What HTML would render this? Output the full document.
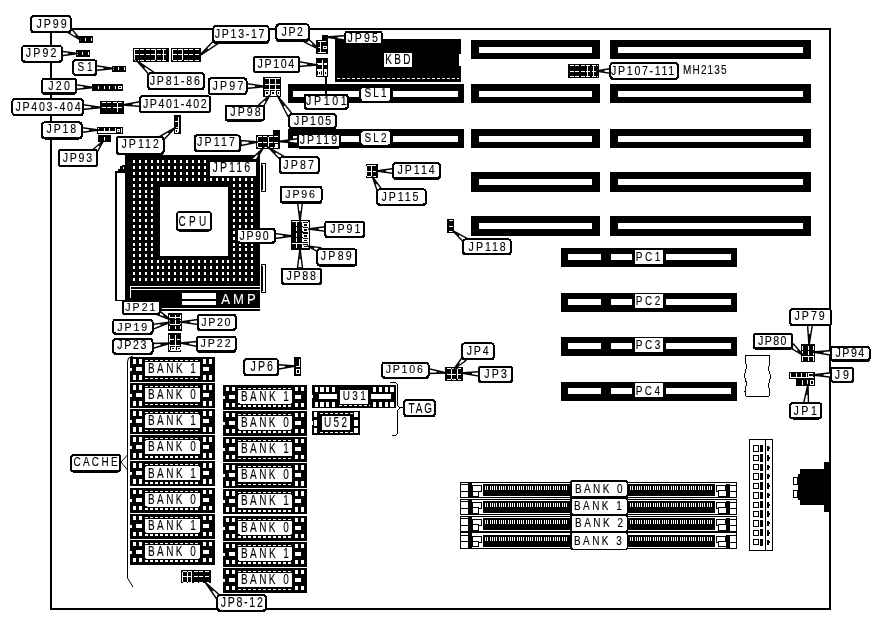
<!DOCTYPE html>
<html><head><meta charset="utf-8"><style>
html,body{margin:0;padding:0;background:#fff;}
body{width:882px;height:619px;overflow:hidden;}
svg{display:block;will-change:transform;}
text{font-family:"Liberation Sans",sans-serif;}
</style></head><body>
<svg width="882" height="619" viewBox="0 0 882 619" shape-rendering="crispEdges">
<rect width="882" height="619" fill="#fff"/>
<rect x="51" y="29" width="779" height="580" fill="none" stroke="#000" stroke-width="2"/>
<rect x="471" y="40" width="129" height="19" fill="#000"/>
<rect x="479" y="47" width="113" height="6" fill="#fff"/>
<rect x="610" y="40" width="201" height="19" fill="#000"/>
<rect x="618" y="47" width="185" height="6" fill="#fff"/>
<rect x="471" y="84" width="129" height="19" fill="#000"/>
<rect x="479" y="91" width="113" height="6" fill="#fff"/>
<rect x="610" y="84" width="201" height="19" fill="#000"/>
<rect x="618" y="91" width="185" height="6" fill="#fff"/>
<rect x="471" y="129" width="129" height="19" fill="#000"/>
<rect x="479" y="136" width="113" height="6" fill="#fff"/>
<rect x="610" y="129" width="201" height="19" fill="#000"/>
<rect x="618" y="136" width="185" height="6" fill="#fff"/>
<rect x="471" y="172" width="129" height="20" fill="#000"/>
<rect x="479" y="179" width="113" height="6" fill="#fff"/>
<rect x="610" y="172" width="201" height="20" fill="#000"/>
<rect x="618" y="179" width="185" height="6" fill="#fff"/>
<rect x="471" y="216" width="129" height="20" fill="#000"/>
<rect x="479" y="223" width="113" height="6" fill="#fff"/>
<rect x="610" y="216" width="201" height="20" fill="#000"/>
<rect x="618" y="223" width="185" height="6" fill="#fff"/>
<rect x="288" y="84" width="176" height="19" fill="#000"/>
<rect x="293" y="91" width="165" height="6" fill="#fff"/>
<rect x="358.6" y="90" width="34.7" height="8" fill="#000"/>
<rect x="288" y="129" width="176" height="19" fill="#000"/>
<rect x="293" y="136" width="165" height="6" fill="#fff"/>
<rect x="358.6" y="135" width="34.7" height="8" fill="#000"/>
<rect x="335" y="39" width="126" height="43" fill="#000"/>
<rect x="459" y="54" width="2" height="12" fill="#fff"/>
<line x1="337" y1="78.5" x2="459" y2="78.5" stroke="#fff" stroke-width="1" stroke-dasharray="3 2"/>
<rect x="561" y="248.2" width="176" height="19" fill="#000"/>
<rect x="568" y="254.2" width="33" height="6" fill="#fff"/>
<rect x="611" y="254.2" width="21" height="6" fill="#fff"/>
<rect x="666" y="254.2" width="65" height="6" fill="#fff"/>
<rect x="561" y="292.5" width="176" height="19" fill="#000"/>
<rect x="568" y="298.5" width="33" height="6" fill="#fff"/>
<rect x="611" y="298.5" width="21" height="6" fill="#fff"/>
<rect x="666" y="298.5" width="65" height="6" fill="#fff"/>
<rect x="561" y="336.5" width="176" height="19" fill="#000"/>
<rect x="568" y="342.5" width="33" height="6" fill="#fff"/>
<rect x="611" y="342.5" width="21" height="6" fill="#fff"/>
<rect x="666" y="342.5" width="65" height="6" fill="#fff"/>
<rect x="561" y="381.8" width="176" height="19" fill="#000"/>
<rect x="568" y="387.8" width="33" height="6" fill="#fff"/>
<rect x="611" y="387.8" width="21" height="6" fill="#fff"/>
<rect x="666" y="387.8" width="65" height="6" fill="#fff"/>
<rect x="125" y="154.7" width="135" height="156.3" fill="#000"/>
<path d="M133 160h2v3h-2zM139 160h2v3h-2zM145 160h2v3h-2zM151 160h2v3h-2zM157 160h2v3h-2zM162 160h2v3h-2zM168 160h2v3h-2zM174 160h2v3h-2zM180 160h2v3h-2zM186 160h2v3h-2zM192 160h2v3h-2zM198 160h2v3h-2zM204 160h2v3h-2zM210 160h2v3h-2zM216 160h2v3h-2zM222 160h2v3h-2zM227 160h2v3h-2zM233 160h2v3h-2zM239 160h2v3h-2zM245 160h2v3h-2zM251 160h2v3h-2zM133 166h2v3h-2zM139 166h2v3h-2zM145 166h2v3h-2zM151 166h2v3h-2zM157 166h2v3h-2zM162 166h2v3h-2zM168 166h2v3h-2zM174 166h2v3h-2zM180 166h2v3h-2zM186 166h2v3h-2zM192 166h2v3h-2zM198 166h2v3h-2zM204 166h2v3h-2zM210 166h2v3h-2zM216 166h2v3h-2zM222 166h2v3h-2zM227 166h2v3h-2zM233 166h2v3h-2zM239 166h2v3h-2zM245 166h2v3h-2zM251 166h2v3h-2zM133 172h2v3h-2zM139 172h2v3h-2zM145 172h2v3h-2zM151 172h2v3h-2zM157 172h2v3h-2zM162 172h2v3h-2zM168 172h2v3h-2zM174 172h2v3h-2zM180 172h2v3h-2zM186 172h2v3h-2zM192 172h2v3h-2zM198 172h2v3h-2zM204 172h2v3h-2zM210 172h2v3h-2zM216 172h2v3h-2zM222 172h2v3h-2zM227 172h2v3h-2zM233 172h2v3h-2zM239 172h2v3h-2zM245 172h2v3h-2zM251 172h2v3h-2zM133 178h2v3h-2zM139 178h2v3h-2zM145 178h2v3h-2zM151 178h2v3h-2zM157 178h2v3h-2zM162 178h2v3h-2zM168 178h2v3h-2zM174 178h2v3h-2zM180 178h2v3h-2zM186 178h2v3h-2zM192 178h2v3h-2zM198 178h2v3h-2zM204 178h2v3h-2zM210 178h2v3h-2zM216 178h2v3h-2zM222 178h2v3h-2zM227 178h2v3h-2zM233 178h2v3h-2zM239 178h2v3h-2zM245 178h2v3h-2zM251 178h2v3h-2zM133 184h2v3h-2zM139 184h2v3h-2zM145 184h2v3h-2zM151 184h2v3h-2zM233 184h2v3h-2zM239 184h2v3h-2zM245 184h2v3h-2zM251 184h2v3h-2zM133 190h2v3h-2zM139 190h2v3h-2zM145 190h2v3h-2zM151 190h2v3h-2zM233 190h2v3h-2zM239 190h2v3h-2zM245 190h2v3h-2zM251 190h2v3h-2zM133 195h2v3h-2zM139 195h2v3h-2zM145 195h2v3h-2zM151 195h2v3h-2zM233 195h2v3h-2zM239 195h2v3h-2zM245 195h2v3h-2zM251 195h2v3h-2zM133 201h2v3h-2zM139 201h2v3h-2zM145 201h2v3h-2zM151 201h2v3h-2zM233 201h2v3h-2zM239 201h2v3h-2zM245 201h2v3h-2zM251 201h2v3h-2zM133 207h2v3h-2zM139 207h2v3h-2zM145 207h2v3h-2zM151 207h2v3h-2zM233 207h2v3h-2zM239 207h2v3h-2zM245 207h2v3h-2zM251 207h2v3h-2zM133 213h2v3h-2zM139 213h2v3h-2zM145 213h2v3h-2zM151 213h2v3h-2zM233 213h2v3h-2zM239 213h2v3h-2zM245 213h2v3h-2zM251 213h2v3h-2zM133 219h2v3h-2zM139 219h2v3h-2zM145 219h2v3h-2zM151 219h2v3h-2zM233 219h2v3h-2zM239 219h2v3h-2zM245 219h2v3h-2zM251 219h2v3h-2zM133 225h2v3h-2zM139 225h2v3h-2zM145 225h2v3h-2zM151 225h2v3h-2zM233 225h2v3h-2zM239 225h2v3h-2zM245 225h2v3h-2zM251 225h2v3h-2zM133 231h2v3h-2zM139 231h2v3h-2zM145 231h2v3h-2zM151 231h2v3h-2zM233 231h2v3h-2zM239 231h2v3h-2zM245 231h2v3h-2zM251 231h2v3h-2zM133 237h2v3h-2zM139 237h2v3h-2zM145 237h2v3h-2zM151 237h2v3h-2zM233 237h2v3h-2zM239 237h2v3h-2zM245 237h2v3h-2zM251 237h2v3h-2zM133 243h2v3h-2zM139 243h2v3h-2zM145 243h2v3h-2zM151 243h2v3h-2zM233 243h2v3h-2zM239 243h2v3h-2zM245 243h2v3h-2zM251 243h2v3h-2zM133 248h2v3h-2zM139 248h2v3h-2zM145 248h2v3h-2zM151 248h2v3h-2zM233 248h2v3h-2zM239 248h2v3h-2zM245 248h2v3h-2zM251 248h2v3h-2zM133 254h2v3h-2zM139 254h2v3h-2zM145 254h2v3h-2zM151 254h2v3h-2zM233 254h2v3h-2zM239 254h2v3h-2zM245 254h2v3h-2zM251 254h2v3h-2zM133 260h2v3h-2zM139 260h2v3h-2zM145 260h2v3h-2zM151 260h2v3h-2zM157 260h2v3h-2zM162 260h2v3h-2zM168 260h2v3h-2zM174 260h2v3h-2zM180 260h2v3h-2zM186 260h2v3h-2zM192 260h2v3h-2zM198 260h2v3h-2zM204 260h2v3h-2zM210 260h2v3h-2zM216 260h2v3h-2zM222 260h2v3h-2zM227 260h2v3h-2zM233 260h2v3h-2zM239 260h2v3h-2zM245 260h2v3h-2zM251 260h2v3h-2zM133 266h2v3h-2zM139 266h2v3h-2zM145 266h2v3h-2zM151 266h2v3h-2zM157 266h2v3h-2zM162 266h2v3h-2zM168 266h2v3h-2zM174 266h2v3h-2zM180 266h2v3h-2zM186 266h2v3h-2zM192 266h2v3h-2zM198 266h2v3h-2zM204 266h2v3h-2zM210 266h2v3h-2zM216 266h2v3h-2zM222 266h2v3h-2zM227 266h2v3h-2zM233 266h2v3h-2zM239 266h2v3h-2zM245 266h2v3h-2zM251 266h2v3h-2zM133 272h2v3h-2zM139 272h2v3h-2zM145 272h2v3h-2zM151 272h2v3h-2zM157 272h2v3h-2zM162 272h2v3h-2zM168 272h2v3h-2zM174 272h2v3h-2zM180 272h2v3h-2zM186 272h2v3h-2zM192 272h2v3h-2zM198 272h2v3h-2zM204 272h2v3h-2zM210 272h2v3h-2zM216 272h2v3h-2zM222 272h2v3h-2zM227 272h2v3h-2zM233 272h2v3h-2zM239 272h2v3h-2zM245 272h2v3h-2zM251 272h2v3h-2zM133 278h2v3h-2zM139 278h2v3h-2zM145 278h2v3h-2zM151 278h2v3h-2zM157 278h2v3h-2zM162 278h2v3h-2zM168 278h2v3h-2zM174 278h2v3h-2zM180 278h2v3h-2zM186 278h2v3h-2zM192 278h2v3h-2zM198 278h2v3h-2zM204 278h2v3h-2zM210 278h2v3h-2zM216 278h2v3h-2zM222 278h2v3h-2zM227 278h2v3h-2zM233 278h2v3h-2zM239 278h2v3h-2zM245 278h2v3h-2zM251 278h2v3h-2z" fill="#fff"/>
<rect x="160" y="187" width="68" height="69" fill="#fff"/>
<rect x="130" y="286" width="130" height="1" fill="#fff"/>
<rect x="130" y="289" width="130" height="1" fill="#fff"/>
<rect x="130" y="286" width="1" height="12" fill="#fff"/>
<rect x="162" y="308" width="98" height="1" fill="#fff"/>
<rect x="182" y="292.5" width="34" height="6" fill="#fff"/>
<rect x="182" y="300.5" width="34" height="4.5" fill="#fff"/>
<text x="260.2" y="303.8" font-size="15.43" fill="#fff" letter-spacing="3.71" transform="scale(0.85000 1)" stroke="#fff" stroke-width="0.12">AMP</text>
<rect x="115" y="171" width="11" height="130" fill="#000"/>
<rect x="117" y="173" width="8" height="127" fill="#fff"/>
<path d="M118 171 L118 169 L120 169 L120 166 L122 166 L122 165 L126 165 L126 171Z" fill="#000"/>
<rect x="123" y="167" width="1" height="2" fill="#fff"/>
<rect x="261.5" y="163.5" width="4" height="28" fill="#fff" stroke="#000" stroke-width="1"/>
<rect x="261" y="165" width="1.5" height="25" fill="#000"/>
<rect x="261.5" y="264.5" width="4" height="28" fill="#fff" stroke="#000" stroke-width="1"/>
<rect x="261" y="266" width="1.5" height="25" fill="#000"/>
<rect x="130" y="357" width="85" height="25" fill="#000"/>
<line x1="145" y1="360.5" x2="200" y2="360.5" stroke="#fff" stroke-width="1" stroke-dasharray="3 2"/>
<line x1="145" y1="378.5" x2="200" y2="378.5" stroke="#fff" stroke-width="1.5" stroke-dasharray="3 2"/>
<rect x="145" y="362" width="55" height="14" fill="#fff" rx="1.5"/>
<text x="204.92" y="373.2" font-size="13.86" fill="#000" letter-spacing="3.44" transform="scale(0.72165 1)" stroke="#000" stroke-width="0.12">BANK 1</text>
<rect x="133" y="359" width="3" height="4.5" fill="#fff"/>
<rect x="139" y="359" width="3" height="4.5" fill="#fff"/>
<rect x="133" y="375" width="3" height="4.5" fill="#fff"/>
<rect x="139" y="375" width="3" height="4.5" fill="#fff"/>
<rect x="203" y="359" width="3" height="4.5" fill="#fff"/>
<rect x="209" y="359" width="3" height="4.5" fill="#fff"/>
<rect x="203" y="375" width="3" height="4.5" fill="#fff"/>
<rect x="209" y="375" width="3" height="4.5" fill="#fff"/>
<rect x="136" y="367" width="6" height="4" fill="#fff"/>
<rect x="203" y="367" width="6" height="4" fill="#fff"/>
<rect x="130" y="368" width="1.5" height="3" fill="#fff"/>
<rect x="223" y="384.5" width="84" height="25" fill="#000"/>
<line x1="238" y1="388" x2="292" y2="388" stroke="#fff" stroke-width="1" stroke-dasharray="3 2"/>
<line x1="238" y1="406" x2="292" y2="406" stroke="#fff" stroke-width="1.5" stroke-dasharray="3 2"/>
<rect x="238" y="389.5" width="54" height="14" fill="#fff" rx="1.5"/>
<text x="333.79" y="400.7" font-size="13.86" fill="#000" letter-spacing="3.44" transform="scale(0.72165 1)" stroke="#000" stroke-width="0.12">BANK 1</text>
<rect x="226" y="386.5" width="3" height="4.5" fill="#fff"/>
<rect x="232" y="386.5" width="3" height="4.5" fill="#fff"/>
<rect x="226" y="402.5" width="3" height="4.5" fill="#fff"/>
<rect x="232" y="402.5" width="3" height="4.5" fill="#fff"/>
<rect x="295" y="386.5" width="3" height="4.5" fill="#fff"/>
<rect x="301" y="386.5" width="3" height="4.5" fill="#fff"/>
<rect x="295" y="402.5" width="3" height="4.5" fill="#fff"/>
<rect x="301" y="402.5" width="3" height="4.5" fill="#fff"/>
<rect x="229" y="394.5" width="6" height="4" fill="#fff"/>
<rect x="295" y="394.5" width="6" height="4" fill="#fff"/>
<rect x="223" y="395.5" width="1.5" height="3" fill="#fff"/>
<rect x="130" y="383.1" width="85" height="25" fill="#000"/>
<line x1="145" y1="386.6" x2="200" y2="386.6" stroke="#fff" stroke-width="1" stroke-dasharray="3 2"/>
<line x1="145" y1="404.6" x2="200" y2="404.6" stroke="#fff" stroke-width="1.5" stroke-dasharray="3 2"/>
<rect x="145" y="388.1" width="55" height="14" fill="#fff" rx="1.5"/>
<text x="204.92" y="399.3" font-size="13.86" fill="#000" letter-spacing="3.41" transform="scale(0.72165 1)" stroke="#000" stroke-width="0.12">BANK 0</text>
<rect x="133" y="385.1" width="3" height="4.5" fill="#fff"/>
<rect x="139" y="385.1" width="3" height="4.5" fill="#fff"/>
<rect x="133" y="401.1" width="3" height="4.5" fill="#fff"/>
<rect x="139" y="401.1" width="3" height="4.5" fill="#fff"/>
<rect x="203" y="385.1" width="3" height="4.5" fill="#fff"/>
<rect x="209" y="385.1" width="3" height="4.5" fill="#fff"/>
<rect x="203" y="401.1" width="3" height="4.5" fill="#fff"/>
<rect x="209" y="401.1" width="3" height="4.5" fill="#fff"/>
<rect x="136" y="393.1" width="6" height="4" fill="#fff"/>
<rect x="203" y="393.1" width="6" height="4" fill="#fff"/>
<rect x="130" y="394.1" width="1.5" height="3" fill="#fff"/>
<rect x="223" y="410.7" width="84" height="25" fill="#000"/>
<line x1="238" y1="414.2" x2="292" y2="414.2" stroke="#fff" stroke-width="1" stroke-dasharray="3 2"/>
<line x1="238" y1="432.2" x2="292" y2="432.2" stroke="#fff" stroke-width="1.5" stroke-dasharray="3 2"/>
<rect x="238" y="415.7" width="54" height="14" fill="#fff" rx="1.5"/>
<text x="333.79" y="426.9" font-size="13.86" fill="#000" letter-spacing="3.41" transform="scale(0.72165 1)" stroke="#000" stroke-width="0.12">BANK 0</text>
<rect x="226" y="412.7" width="3" height="4.5" fill="#fff"/>
<rect x="232" y="412.7" width="3" height="4.5" fill="#fff"/>
<rect x="226" y="428.7" width="3" height="4.5" fill="#fff"/>
<rect x="232" y="428.7" width="3" height="4.5" fill="#fff"/>
<rect x="295" y="412.7" width="3" height="4.5" fill="#fff"/>
<rect x="301" y="412.7" width="3" height="4.5" fill="#fff"/>
<rect x="295" y="428.7" width="3" height="4.5" fill="#fff"/>
<rect x="301" y="428.7" width="3" height="4.5" fill="#fff"/>
<rect x="229" y="420.7" width="6" height="4" fill="#fff"/>
<rect x="295" y="420.7" width="6" height="4" fill="#fff"/>
<rect x="223" y="421.7" width="1.5" height="3" fill="#fff"/>
<rect x="130" y="409.2" width="85" height="25" fill="#000"/>
<line x1="145" y1="412.7" x2="200" y2="412.7" stroke="#fff" stroke-width="1" stroke-dasharray="3 2"/>
<line x1="145" y1="430.7" x2="200" y2="430.7" stroke="#fff" stroke-width="1.5" stroke-dasharray="3 2"/>
<rect x="145" y="414.2" width="55" height="14" fill="#fff" rx="1.5"/>
<text x="204.92" y="425.4" font-size="13.86" fill="#000" letter-spacing="3.44" transform="scale(0.72165 1)" stroke="#000" stroke-width="0.12">BANK 1</text>
<rect x="133" y="411.2" width="3" height="4.5" fill="#fff"/>
<rect x="139" y="411.2" width="3" height="4.5" fill="#fff"/>
<rect x="133" y="427.2" width="3" height="4.5" fill="#fff"/>
<rect x="139" y="427.2" width="3" height="4.5" fill="#fff"/>
<rect x="203" y="411.2" width="3" height="4.5" fill="#fff"/>
<rect x="209" y="411.2" width="3" height="4.5" fill="#fff"/>
<rect x="203" y="427.2" width="3" height="4.5" fill="#fff"/>
<rect x="209" y="427.2" width="3" height="4.5" fill="#fff"/>
<rect x="136" y="419.2" width="6" height="4" fill="#fff"/>
<rect x="203" y="419.2" width="6" height="4" fill="#fff"/>
<rect x="130" y="420.2" width="1.5" height="3" fill="#fff"/>
<rect x="223" y="436.9" width="84" height="25" fill="#000"/>
<line x1="238" y1="440.4" x2="292" y2="440.4" stroke="#fff" stroke-width="1" stroke-dasharray="3 2"/>
<line x1="238" y1="458.4" x2="292" y2="458.4" stroke="#fff" stroke-width="1.5" stroke-dasharray="3 2"/>
<rect x="238" y="441.9" width="54" height="14" fill="#fff" rx="1.5"/>
<text x="333.79" y="453.1" font-size="13.86" fill="#000" letter-spacing="3.44" transform="scale(0.72165 1)" stroke="#000" stroke-width="0.12">BANK 1</text>
<rect x="226" y="438.9" width="3" height="4.5" fill="#fff"/>
<rect x="232" y="438.9" width="3" height="4.5" fill="#fff"/>
<rect x="226" y="454.9" width="3" height="4.5" fill="#fff"/>
<rect x="232" y="454.9" width="3" height="4.5" fill="#fff"/>
<rect x="295" y="438.9" width="3" height="4.5" fill="#fff"/>
<rect x="301" y="438.9" width="3" height="4.5" fill="#fff"/>
<rect x="295" y="454.9" width="3" height="4.5" fill="#fff"/>
<rect x="301" y="454.9" width="3" height="4.5" fill="#fff"/>
<rect x="229" y="446.9" width="6" height="4" fill="#fff"/>
<rect x="295" y="446.9" width="6" height="4" fill="#fff"/>
<rect x="223" y="447.9" width="1.5" height="3" fill="#fff"/>
<rect x="130" y="435.3" width="85" height="25" fill="#000"/>
<line x1="145" y1="438.8" x2="200" y2="438.8" stroke="#fff" stroke-width="1" stroke-dasharray="3 2"/>
<line x1="145" y1="456.8" x2="200" y2="456.8" stroke="#fff" stroke-width="1.5" stroke-dasharray="3 2"/>
<rect x="145" y="440.3" width="55" height="14" fill="#fff" rx="1.5"/>
<text x="204.92" y="451.5" font-size="13.86" fill="#000" letter-spacing="3.41" transform="scale(0.72165 1)" stroke="#000" stroke-width="0.12">BANK 0</text>
<rect x="133" y="437.3" width="3" height="4.5" fill="#fff"/>
<rect x="139" y="437.3" width="3" height="4.5" fill="#fff"/>
<rect x="133" y="453.3" width="3" height="4.5" fill="#fff"/>
<rect x="139" y="453.3" width="3" height="4.5" fill="#fff"/>
<rect x="203" y="437.3" width="3" height="4.5" fill="#fff"/>
<rect x="209" y="437.3" width="3" height="4.5" fill="#fff"/>
<rect x="203" y="453.3" width="3" height="4.5" fill="#fff"/>
<rect x="209" y="453.3" width="3" height="4.5" fill="#fff"/>
<rect x="136" y="445.3" width="6" height="4" fill="#fff"/>
<rect x="203" y="445.3" width="6" height="4" fill="#fff"/>
<rect x="130" y="446.3" width="1.5" height="3" fill="#fff"/>
<rect x="223" y="463.1" width="84" height="25" fill="#000"/>
<line x1="238" y1="466.6" x2="292" y2="466.6" stroke="#fff" stroke-width="1" stroke-dasharray="3 2"/>
<line x1="238" y1="484.6" x2="292" y2="484.6" stroke="#fff" stroke-width="1.5" stroke-dasharray="3 2"/>
<rect x="238" y="468.1" width="54" height="14" fill="#fff" rx="1.5"/>
<text x="333.79" y="479.3" font-size="13.86" fill="#000" letter-spacing="3.41" transform="scale(0.72165 1)" stroke="#000" stroke-width="0.12">BANK 0</text>
<rect x="226" y="465.1" width="3" height="4.5" fill="#fff"/>
<rect x="232" y="465.1" width="3" height="4.5" fill="#fff"/>
<rect x="226" y="481.1" width="3" height="4.5" fill="#fff"/>
<rect x="232" y="481.1" width="3" height="4.5" fill="#fff"/>
<rect x="295" y="465.1" width="3" height="4.5" fill="#fff"/>
<rect x="301" y="465.1" width="3" height="4.5" fill="#fff"/>
<rect x="295" y="481.1" width="3" height="4.5" fill="#fff"/>
<rect x="301" y="481.1" width="3" height="4.5" fill="#fff"/>
<rect x="229" y="473.1" width="6" height="4" fill="#fff"/>
<rect x="295" y="473.1" width="6" height="4" fill="#fff"/>
<rect x="223" y="474.1" width="1.5" height="3" fill="#fff"/>
<rect x="130" y="461.4" width="85" height="25" fill="#000"/>
<line x1="145" y1="464.9" x2="200" y2="464.9" stroke="#fff" stroke-width="1" stroke-dasharray="3 2"/>
<line x1="145" y1="482.9" x2="200" y2="482.9" stroke="#fff" stroke-width="1.5" stroke-dasharray="3 2"/>
<rect x="145" y="466.4" width="55" height="14" fill="#fff" rx="1.5"/>
<text x="204.92" y="477.6" font-size="13.86" fill="#000" letter-spacing="3.44" transform="scale(0.72165 1)" stroke="#000" stroke-width="0.12">BANK 1</text>
<rect x="133" y="463.4" width="3" height="4.5" fill="#fff"/>
<rect x="139" y="463.4" width="3" height="4.5" fill="#fff"/>
<rect x="133" y="479.4" width="3" height="4.5" fill="#fff"/>
<rect x="139" y="479.4" width="3" height="4.5" fill="#fff"/>
<rect x="203" y="463.4" width="3" height="4.5" fill="#fff"/>
<rect x="209" y="463.4" width="3" height="4.5" fill="#fff"/>
<rect x="203" y="479.4" width="3" height="4.5" fill="#fff"/>
<rect x="209" y="479.4" width="3" height="4.5" fill="#fff"/>
<rect x="136" y="471.4" width="6" height="4" fill="#fff"/>
<rect x="203" y="471.4" width="6" height="4" fill="#fff"/>
<rect x="130" y="472.4" width="1.5" height="3" fill="#fff"/>
<rect x="223" y="489.3" width="84" height="25" fill="#000"/>
<line x1="238" y1="492.8" x2="292" y2="492.8" stroke="#fff" stroke-width="1" stroke-dasharray="3 2"/>
<line x1="238" y1="510.8" x2="292" y2="510.8" stroke="#fff" stroke-width="1.5" stroke-dasharray="3 2"/>
<rect x="238" y="494.3" width="54" height="14" fill="#fff" rx="1.5"/>
<text x="333.79" y="505.5" font-size="13.86" fill="#000" letter-spacing="3.44" transform="scale(0.72165 1)" stroke="#000" stroke-width="0.12">BANK 1</text>
<rect x="226" y="491.3" width="3" height="4.5" fill="#fff"/>
<rect x="232" y="491.3" width="3" height="4.5" fill="#fff"/>
<rect x="226" y="507.3" width="3" height="4.5" fill="#fff"/>
<rect x="232" y="507.3" width="3" height="4.5" fill="#fff"/>
<rect x="295" y="491.3" width="3" height="4.5" fill="#fff"/>
<rect x="301" y="491.3" width="3" height="4.5" fill="#fff"/>
<rect x="295" y="507.3" width="3" height="4.5" fill="#fff"/>
<rect x="301" y="507.3" width="3" height="4.5" fill="#fff"/>
<rect x="229" y="499.3" width="6" height="4" fill="#fff"/>
<rect x="295" y="499.3" width="6" height="4" fill="#fff"/>
<rect x="223" y="500.3" width="1.5" height="3" fill="#fff"/>
<rect x="130" y="487.5" width="85" height="25" fill="#000"/>
<line x1="145" y1="491" x2="200" y2="491" stroke="#fff" stroke-width="1" stroke-dasharray="3 2"/>
<line x1="145" y1="509" x2="200" y2="509" stroke="#fff" stroke-width="1.5" stroke-dasharray="3 2"/>
<rect x="145" y="492.5" width="55" height="14" fill="#fff" rx="1.5"/>
<text x="204.92" y="503.7" font-size="13.86" fill="#000" letter-spacing="3.41" transform="scale(0.72165 1)" stroke="#000" stroke-width="0.12">BANK 0</text>
<rect x="133" y="489.5" width="3" height="4.5" fill="#fff"/>
<rect x="139" y="489.5" width="3" height="4.5" fill="#fff"/>
<rect x="133" y="505.5" width="3" height="4.5" fill="#fff"/>
<rect x="139" y="505.5" width="3" height="4.5" fill="#fff"/>
<rect x="203" y="489.5" width="3" height="4.5" fill="#fff"/>
<rect x="209" y="489.5" width="3" height="4.5" fill="#fff"/>
<rect x="203" y="505.5" width="3" height="4.5" fill="#fff"/>
<rect x="209" y="505.5" width="3" height="4.5" fill="#fff"/>
<rect x="136" y="497.5" width="6" height="4" fill="#fff"/>
<rect x="203" y="497.5" width="6" height="4" fill="#fff"/>
<rect x="130" y="498.5" width="1.5" height="3" fill="#fff"/>
<rect x="223" y="515.5" width="84" height="25" fill="#000"/>
<line x1="238" y1="519" x2="292" y2="519" stroke="#fff" stroke-width="1" stroke-dasharray="3 2"/>
<line x1="238" y1="537" x2="292" y2="537" stroke="#fff" stroke-width="1.5" stroke-dasharray="3 2"/>
<rect x="238" y="520.5" width="54" height="14" fill="#fff" rx="1.5"/>
<text x="333.79" y="531.7" font-size="13.86" fill="#000" letter-spacing="3.41" transform="scale(0.72165 1)" stroke="#000" stroke-width="0.12">BANK 0</text>
<rect x="226" y="517.5" width="3" height="4.5" fill="#fff"/>
<rect x="232" y="517.5" width="3" height="4.5" fill="#fff"/>
<rect x="226" y="533.5" width="3" height="4.5" fill="#fff"/>
<rect x="232" y="533.5" width="3" height="4.5" fill="#fff"/>
<rect x="295" y="517.5" width="3" height="4.5" fill="#fff"/>
<rect x="301" y="517.5" width="3" height="4.5" fill="#fff"/>
<rect x="295" y="533.5" width="3" height="4.5" fill="#fff"/>
<rect x="301" y="533.5" width="3" height="4.5" fill="#fff"/>
<rect x="229" y="525.5" width="6" height="4" fill="#fff"/>
<rect x="295" y="525.5" width="6" height="4" fill="#fff"/>
<rect x="223" y="526.5" width="1.5" height="3" fill="#fff"/>
<rect x="130" y="513.6" width="85" height="25" fill="#000"/>
<line x1="145" y1="517.1" x2="200" y2="517.1" stroke="#fff" stroke-width="1" stroke-dasharray="3 2"/>
<line x1="145" y1="535.1" x2="200" y2="535.1" stroke="#fff" stroke-width="1.5" stroke-dasharray="3 2"/>
<rect x="145" y="518.6" width="55" height="14" fill="#fff" rx="1.5"/>
<text x="204.92" y="529.8" font-size="13.86" fill="#000" letter-spacing="3.44" transform="scale(0.72165 1)" stroke="#000" stroke-width="0.12">BANK 1</text>
<rect x="133" y="515.6" width="3" height="4.5" fill="#fff"/>
<rect x="139" y="515.6" width="3" height="4.5" fill="#fff"/>
<rect x="133" y="531.6" width="3" height="4.5" fill="#fff"/>
<rect x="139" y="531.6" width="3" height="4.5" fill="#fff"/>
<rect x="203" y="515.6" width="3" height="4.5" fill="#fff"/>
<rect x="209" y="515.6" width="3" height="4.5" fill="#fff"/>
<rect x="203" y="531.6" width="3" height="4.5" fill="#fff"/>
<rect x="209" y="531.6" width="3" height="4.5" fill="#fff"/>
<rect x="136" y="523.6" width="6" height="4" fill="#fff"/>
<rect x="203" y="523.6" width="6" height="4" fill="#fff"/>
<rect x="130" y="524.6" width="1.5" height="3" fill="#fff"/>
<rect x="223" y="541.7" width="84" height="25" fill="#000"/>
<line x1="238" y1="545.2" x2="292" y2="545.2" stroke="#fff" stroke-width="1" stroke-dasharray="3 2"/>
<line x1="238" y1="563.2" x2="292" y2="563.2" stroke="#fff" stroke-width="1.5" stroke-dasharray="3 2"/>
<rect x="238" y="546.7" width="54" height="14" fill="#fff" rx="1.5"/>
<text x="333.79" y="557.9" font-size="13.86" fill="#000" letter-spacing="3.44" transform="scale(0.72165 1)" stroke="#000" stroke-width="0.12">BANK 1</text>
<rect x="226" y="543.7" width="3" height="4.5" fill="#fff"/>
<rect x="232" y="543.7" width="3" height="4.5" fill="#fff"/>
<rect x="226" y="559.7" width="3" height="4.5" fill="#fff"/>
<rect x="232" y="559.7" width="3" height="4.5" fill="#fff"/>
<rect x="295" y="543.7" width="3" height="4.5" fill="#fff"/>
<rect x="301" y="543.7" width="3" height="4.5" fill="#fff"/>
<rect x="295" y="559.7" width="3" height="4.5" fill="#fff"/>
<rect x="301" y="559.7" width="3" height="4.5" fill="#fff"/>
<rect x="229" y="551.7" width="6" height="4" fill="#fff"/>
<rect x="295" y="551.7" width="6" height="4" fill="#fff"/>
<rect x="223" y="552.7" width="1.5" height="3" fill="#fff"/>
<rect x="130" y="539.7" width="85" height="25" fill="#000"/>
<line x1="145" y1="543.2" x2="200" y2="543.2" stroke="#fff" stroke-width="1" stroke-dasharray="3 2"/>
<line x1="145" y1="561.2" x2="200" y2="561.2" stroke="#fff" stroke-width="1.5" stroke-dasharray="3 2"/>
<rect x="145" y="544.7" width="55" height="14" fill="#fff" rx="1.5"/>
<text x="204.92" y="555.9" font-size="13.86" fill="#000" letter-spacing="3.41" transform="scale(0.72165 1)" stroke="#000" stroke-width="0.12">BANK 0</text>
<rect x="133" y="541.7" width="3" height="4.5" fill="#fff"/>
<rect x="139" y="541.7" width="3" height="4.5" fill="#fff"/>
<rect x="133" y="557.7" width="3" height="4.5" fill="#fff"/>
<rect x="139" y="557.7" width="3" height="4.5" fill="#fff"/>
<rect x="203" y="541.7" width="3" height="4.5" fill="#fff"/>
<rect x="209" y="541.7" width="3" height="4.5" fill="#fff"/>
<rect x="203" y="557.7" width="3" height="4.5" fill="#fff"/>
<rect x="209" y="557.7" width="3" height="4.5" fill="#fff"/>
<rect x="136" y="549.7" width="6" height="4" fill="#fff"/>
<rect x="203" y="549.7" width="6" height="4" fill="#fff"/>
<rect x="130" y="550.7" width="1.5" height="3" fill="#fff"/>
<rect x="223" y="567.9" width="84" height="25" fill="#000"/>
<line x1="238" y1="571.4" x2="292" y2="571.4" stroke="#fff" stroke-width="1" stroke-dasharray="3 2"/>
<line x1="238" y1="589.4" x2="292" y2="589.4" stroke="#fff" stroke-width="1.5" stroke-dasharray="3 2"/>
<rect x="238" y="572.9" width="54" height="14" fill="#fff" rx="1.5"/>
<text x="333.79" y="584.1" font-size="13.86" fill="#000" letter-spacing="3.41" transform="scale(0.72165 1)" stroke="#000" stroke-width="0.12">BANK 0</text>
<rect x="226" y="569.9" width="3" height="4.5" fill="#fff"/>
<rect x="232" y="569.9" width="3" height="4.5" fill="#fff"/>
<rect x="226" y="585.9" width="3" height="4.5" fill="#fff"/>
<rect x="232" y="585.9" width="3" height="4.5" fill="#fff"/>
<rect x="295" y="569.9" width="3" height="4.5" fill="#fff"/>
<rect x="301" y="569.9" width="3" height="4.5" fill="#fff"/>
<rect x="295" y="585.9" width="3" height="4.5" fill="#fff"/>
<rect x="301" y="585.9" width="3" height="4.5" fill="#fff"/>
<rect x="229" y="577.9" width="6" height="4" fill="#fff"/>
<rect x="295" y="577.9" width="6" height="4" fill="#fff"/>
<rect x="223" y="578.9" width="1.5" height="3" fill="#fff"/>
<rect x="312" y="385" width="83.8" height="23.4" fill="#000"/>
<rect x="314.5" y="387.1" width="3.3" height="4.4" fill="#fff"/>
<rect x="314.5" y="401.9" width="3.3" height="4.7" fill="#fff"/>
<rect x="320.3" y="387.1" width="3.3" height="4.4" fill="#fff"/>
<rect x="320.3" y="401.9" width="3.3" height="4.7" fill="#fff"/>
<rect x="326" y="387.1" width="3.3" height="4.4" fill="#fff"/>
<rect x="326" y="401.9" width="3.3" height="4.7" fill="#fff"/>
<rect x="331.8" y="387.1" width="3.3" height="4.4" fill="#fff"/>
<rect x="331.8" y="401.9" width="3.3" height="4.7" fill="#fff"/>
<rect x="372.9" y="387.1" width="3.3" height="4.4" fill="#fff"/>
<rect x="372.9" y="401.9" width="3.3" height="4.7" fill="#fff"/>
<rect x="378.9" y="387.1" width="3.3" height="4.4" fill="#fff"/>
<rect x="378.9" y="401.9" width="3.3" height="4.7" fill="#fff"/>
<rect x="385" y="387.1" width="3.3" height="4.4" fill="#fff"/>
<rect x="385" y="401.9" width="3.3" height="4.7" fill="#fff"/>
<rect x="390.4" y="387.1" width="3.3" height="4.4" fill="#fff"/>
<rect x="390.4" y="401.9" width="3.3" height="4.7" fill="#fff"/>
<rect x="319" y="394.1" width="18" height="4.7" fill="#fff"/>
<rect x="371.1" y="394.1" width="19.8" height="4.7" fill="#fff"/>
<rect x="312" y="394.5" width="1.2" height="3.5" fill="#fff"/>
<line x1="339" y1="405.6" x2="370" y2="405.6" stroke="#fff" stroke-width="1" stroke-dasharray="3 2"/>
<rect x="312" y="411.1" width="47.6" height="23.7" fill="#000"/>
<line x1="320" y1="413" x2="353" y2="413" stroke="#fff" stroke-width="1" stroke-dasharray="3 2"/>
<line x1="320" y1="432.2" x2="353" y2="432.2" stroke="#fff" stroke-width="1.2" stroke-dasharray="3 2"/>
<rect x="313.7" y="412.3" width="3.2" height="4.7" fill="#fff"/>
<rect x="354.4" y="412.3" width="3.7" height="4.7" fill="#fff"/>
<rect x="313.7" y="420.2" width="3.2" height="5.7" fill="#fff"/>
<rect x="354.4" y="420.2" width="3.7" height="5.7" fill="#fff"/>
<rect x="313.7" y="428" width="3.2" height="5.2" fill="#fff"/>
<rect x="354.4" y="428" width="3.7" height="5.2" fill="#fff"/>
<rect x="312" y="421" width="1.2" height="3.5" fill="#fff"/>
<path d="M390 382.5H395.5L397.5 384.5V405.5L399.5 407.5H404M399.5 408.5L397.5 410.5V433.5L395.5 435.5H392" fill="none" stroke="#000" stroke-width="1"/>
<rect x="460.5" y="482.2" width="276" height="15.5" fill="#fff" stroke="#000" stroke-width="1"/>
<rect x="460" y="484.2" width="8" height="1" fill="#000"/>
<rect x="460" y="490.7" width="8" height="1" fill="#000"/>
<rect x="468" y="482.7" width="4" height="14.5" fill="#000"/>
<rect x="472.5" y="485.5" width="9.2" height="6.2" fill="#fff" stroke="#000" stroke-width="1"/>
<rect x="472.5" y="491" width="5.5" height="5.2" fill="#fff" stroke="#000" stroke-width="1"/>
<rect x="483" y="483.9" width="87" height="12.1" fill="#000"/>
<path d="M485 485.9h1v4h-1zM487.25 485.9h1v4h-1zM489.5 485.9h1v4h-1zM491.75 485.9h1v4h-1zM494 485.9h1v4h-1zM496.25 485.9h1v4h-1zM498.5 485.9h1v4h-1zM500.75 485.9h1v4h-1zM503 485.9h1v4h-1zM505.25 485.9h1v4h-1zM507.5 485.9h1v4h-1zM509.75 485.9h1v4h-1zM512 485.9h1v4h-1zM514.25 485.9h1v4h-1zM516.5 485.9h1v4h-1zM518.75 485.9h1v4h-1zM521 485.9h1v4h-1zM523.25 485.9h1v4h-1zM525.5 485.9h1v4h-1zM527.75 485.9h1v4h-1zM530 485.9h1v4h-1zM532.25 485.9h1v4h-1zM534.5 485.9h1v4h-1zM536.75 485.9h1v4h-1zM539 485.9h1v4h-1zM541.25 485.9h1v4h-1zM543.5 485.9h1v4h-1zM545.75 485.9h1v4h-1zM548 485.9h1v4h-1zM550.25 485.9h1v4h-1zM552.5 485.9h1v4h-1zM554.75 485.9h1v4h-1zM557 485.9h1v4h-1zM559.25 485.9h1v4h-1zM561.5 485.9h1v4h-1zM563.75 485.9h1v4h-1zM566 485.9h1v4h-1z" fill="#fff"/>
<rect x="628" y="483.9" width="86.5" height="12.1" fill="#000"/>
<path d="M630 485.9h1v4h-1zM632.25 485.9h1v4h-1zM634.5 485.9h1v4h-1zM636.75 485.9h1v4h-1zM639 485.9h1v4h-1zM641.25 485.9h1v4h-1zM643.5 485.9h1v4h-1zM645.75 485.9h1v4h-1zM648 485.9h1v4h-1zM650.25 485.9h1v4h-1zM652.5 485.9h1v4h-1zM654.75 485.9h1v4h-1zM657 485.9h1v4h-1zM659.25 485.9h1v4h-1zM661.5 485.9h1v4h-1zM663.75 485.9h1v4h-1zM666 485.9h1v4h-1zM668.25 485.9h1v4h-1zM670.5 485.9h1v4h-1zM672.75 485.9h1v4h-1zM675 485.9h1v4h-1zM677.25 485.9h1v4h-1zM679.5 485.9h1v4h-1zM681.75 485.9h1v4h-1zM684 485.9h1v4h-1zM686.25 485.9h1v4h-1zM688.5 485.9h1v4h-1zM690.75 485.9h1v4h-1zM693 485.9h1v4h-1zM695.25 485.9h1v4h-1zM697.5 485.9h1v4h-1zM699.75 485.9h1v4h-1zM702 485.9h1v4h-1zM704.25 485.9h1v4h-1zM706.5 485.9h1v4h-1zM708.75 485.9h1v4h-1zM711 485.9h1v4h-1z" fill="#fff"/>
<rect x="716.7" y="485.8" width="8.4" height="6" fill="#fff" stroke="#000" stroke-width="1"/>
<rect x="718.7" y="490.7" width="7.3" height="5.5" fill="#fff" stroke="#000" stroke-width="1"/>
<rect x="726.3" y="484" width="3.4" height="13" fill="#000"/>
<rect x="729.7" y="484.7" width="7.3" height="1" fill="#000"/>
<rect x="729.7" y="491" width="7.3" height="1" fill="#000"/>
<rect x="460.5" y="499.1" width="276" height="15.5" fill="#fff" stroke="#000" stroke-width="1"/>
<rect x="460" y="501.1" width="8" height="1" fill="#000"/>
<rect x="460" y="507.6" width="8" height="1" fill="#000"/>
<rect x="468" y="499.6" width="4" height="14.5" fill="#000"/>
<rect x="472.5" y="502.4" width="9.2" height="6.2" fill="#fff" stroke="#000" stroke-width="1"/>
<rect x="472.5" y="507.9" width="5.5" height="5.2" fill="#fff" stroke="#000" stroke-width="1"/>
<rect x="483" y="500.8" width="87" height="12.1" fill="#000"/>
<path d="M485 502.8h1v4h-1zM487.25 502.8h1v4h-1zM489.5 502.8h1v4h-1zM491.75 502.8h1v4h-1zM494 502.8h1v4h-1zM496.25 502.8h1v4h-1zM498.5 502.8h1v4h-1zM500.75 502.8h1v4h-1zM503 502.8h1v4h-1zM505.25 502.8h1v4h-1zM507.5 502.8h1v4h-1zM509.75 502.8h1v4h-1zM512 502.8h1v4h-1zM514.25 502.8h1v4h-1zM516.5 502.8h1v4h-1zM518.75 502.8h1v4h-1zM521 502.8h1v4h-1zM523.25 502.8h1v4h-1zM525.5 502.8h1v4h-1zM527.75 502.8h1v4h-1zM530 502.8h1v4h-1zM532.25 502.8h1v4h-1zM534.5 502.8h1v4h-1zM536.75 502.8h1v4h-1zM539 502.8h1v4h-1zM541.25 502.8h1v4h-1zM543.5 502.8h1v4h-1zM545.75 502.8h1v4h-1zM548 502.8h1v4h-1zM550.25 502.8h1v4h-1zM552.5 502.8h1v4h-1zM554.75 502.8h1v4h-1zM557 502.8h1v4h-1zM559.25 502.8h1v4h-1zM561.5 502.8h1v4h-1zM563.75 502.8h1v4h-1zM566 502.8h1v4h-1z" fill="#fff"/>
<rect x="628" y="500.8" width="86.5" height="12.1" fill="#000"/>
<path d="M630 502.8h1v4h-1zM632.25 502.8h1v4h-1zM634.5 502.8h1v4h-1zM636.75 502.8h1v4h-1zM639 502.8h1v4h-1zM641.25 502.8h1v4h-1zM643.5 502.8h1v4h-1zM645.75 502.8h1v4h-1zM648 502.8h1v4h-1zM650.25 502.8h1v4h-1zM652.5 502.8h1v4h-1zM654.75 502.8h1v4h-1zM657 502.8h1v4h-1zM659.25 502.8h1v4h-1zM661.5 502.8h1v4h-1zM663.75 502.8h1v4h-1zM666 502.8h1v4h-1zM668.25 502.8h1v4h-1zM670.5 502.8h1v4h-1zM672.75 502.8h1v4h-1zM675 502.8h1v4h-1zM677.25 502.8h1v4h-1zM679.5 502.8h1v4h-1zM681.75 502.8h1v4h-1zM684 502.8h1v4h-1zM686.25 502.8h1v4h-1zM688.5 502.8h1v4h-1zM690.75 502.8h1v4h-1zM693 502.8h1v4h-1zM695.25 502.8h1v4h-1zM697.5 502.8h1v4h-1zM699.75 502.8h1v4h-1zM702 502.8h1v4h-1zM704.25 502.8h1v4h-1zM706.5 502.8h1v4h-1zM708.75 502.8h1v4h-1zM711 502.8h1v4h-1z" fill="#fff"/>
<rect x="716.7" y="502.7" width="8.4" height="6" fill="#fff" stroke="#000" stroke-width="1"/>
<rect x="718.7" y="507.6" width="7.3" height="5.5" fill="#fff" stroke="#000" stroke-width="1"/>
<rect x="726.3" y="500.9" width="3.4" height="13" fill="#000"/>
<rect x="729.7" y="501.6" width="7.3" height="1" fill="#000"/>
<rect x="729.7" y="507.9" width="7.3" height="1" fill="#000"/>
<rect x="460.5" y="516" width="276" height="15.5" fill="#fff" stroke="#000" stroke-width="1"/>
<rect x="460" y="518" width="8" height="1" fill="#000"/>
<rect x="460" y="524.5" width="8" height="1" fill="#000"/>
<rect x="468" y="516.5" width="4" height="14.5" fill="#000"/>
<rect x="472.5" y="519.3" width="9.2" height="6.2" fill="#fff" stroke="#000" stroke-width="1"/>
<rect x="472.5" y="524.8" width="5.5" height="5.2" fill="#fff" stroke="#000" stroke-width="1"/>
<rect x="483" y="517.7" width="87" height="12.1" fill="#000"/>
<path d="M485 519.7h1v4h-1zM487.25 519.7h1v4h-1zM489.5 519.7h1v4h-1zM491.75 519.7h1v4h-1zM494 519.7h1v4h-1zM496.25 519.7h1v4h-1zM498.5 519.7h1v4h-1zM500.75 519.7h1v4h-1zM503 519.7h1v4h-1zM505.25 519.7h1v4h-1zM507.5 519.7h1v4h-1zM509.75 519.7h1v4h-1zM512 519.7h1v4h-1zM514.25 519.7h1v4h-1zM516.5 519.7h1v4h-1zM518.75 519.7h1v4h-1zM521 519.7h1v4h-1zM523.25 519.7h1v4h-1zM525.5 519.7h1v4h-1zM527.75 519.7h1v4h-1zM530 519.7h1v4h-1zM532.25 519.7h1v4h-1zM534.5 519.7h1v4h-1zM536.75 519.7h1v4h-1zM539 519.7h1v4h-1zM541.25 519.7h1v4h-1zM543.5 519.7h1v4h-1zM545.75 519.7h1v4h-1zM548 519.7h1v4h-1zM550.25 519.7h1v4h-1zM552.5 519.7h1v4h-1zM554.75 519.7h1v4h-1zM557 519.7h1v4h-1zM559.25 519.7h1v4h-1zM561.5 519.7h1v4h-1zM563.75 519.7h1v4h-1zM566 519.7h1v4h-1z" fill="#fff"/>
<rect x="628" y="517.7" width="86.5" height="12.1" fill="#000"/>
<path d="M630 519.7h1v4h-1zM632.25 519.7h1v4h-1zM634.5 519.7h1v4h-1zM636.75 519.7h1v4h-1zM639 519.7h1v4h-1zM641.25 519.7h1v4h-1zM643.5 519.7h1v4h-1zM645.75 519.7h1v4h-1zM648 519.7h1v4h-1zM650.25 519.7h1v4h-1zM652.5 519.7h1v4h-1zM654.75 519.7h1v4h-1zM657 519.7h1v4h-1zM659.25 519.7h1v4h-1zM661.5 519.7h1v4h-1zM663.75 519.7h1v4h-1zM666 519.7h1v4h-1zM668.25 519.7h1v4h-1zM670.5 519.7h1v4h-1zM672.75 519.7h1v4h-1zM675 519.7h1v4h-1zM677.25 519.7h1v4h-1zM679.5 519.7h1v4h-1zM681.75 519.7h1v4h-1zM684 519.7h1v4h-1zM686.25 519.7h1v4h-1zM688.5 519.7h1v4h-1zM690.75 519.7h1v4h-1zM693 519.7h1v4h-1zM695.25 519.7h1v4h-1zM697.5 519.7h1v4h-1zM699.75 519.7h1v4h-1zM702 519.7h1v4h-1zM704.25 519.7h1v4h-1zM706.5 519.7h1v4h-1zM708.75 519.7h1v4h-1zM711 519.7h1v4h-1z" fill="#fff"/>
<rect x="716.7" y="519.6" width="8.4" height="6" fill="#fff" stroke="#000" stroke-width="1"/>
<rect x="718.7" y="524.5" width="7.3" height="5.5" fill="#fff" stroke="#000" stroke-width="1"/>
<rect x="726.3" y="517.8" width="3.4" height="13" fill="#000"/>
<rect x="729.7" y="518.5" width="7.3" height="1" fill="#000"/>
<rect x="729.7" y="524.8" width="7.3" height="1" fill="#000"/>
<rect x="460.5" y="532.9" width="276" height="15.5" fill="#fff" stroke="#000" stroke-width="1"/>
<rect x="460" y="534.9" width="8" height="1" fill="#000"/>
<rect x="460" y="541.4" width="8" height="1" fill="#000"/>
<rect x="468" y="533.4" width="4" height="14.5" fill="#000"/>
<rect x="472.5" y="536.2" width="9.2" height="6.2" fill="#fff" stroke="#000" stroke-width="1"/>
<rect x="472.5" y="541.7" width="5.5" height="5.2" fill="#fff" stroke="#000" stroke-width="1"/>
<rect x="483" y="534.6" width="87" height="12.1" fill="#000"/>
<path d="M485 536.6h1v4h-1zM487.25 536.6h1v4h-1zM489.5 536.6h1v4h-1zM491.75 536.6h1v4h-1zM494 536.6h1v4h-1zM496.25 536.6h1v4h-1zM498.5 536.6h1v4h-1zM500.75 536.6h1v4h-1zM503 536.6h1v4h-1zM505.25 536.6h1v4h-1zM507.5 536.6h1v4h-1zM509.75 536.6h1v4h-1zM512 536.6h1v4h-1zM514.25 536.6h1v4h-1zM516.5 536.6h1v4h-1zM518.75 536.6h1v4h-1zM521 536.6h1v4h-1zM523.25 536.6h1v4h-1zM525.5 536.6h1v4h-1zM527.75 536.6h1v4h-1zM530 536.6h1v4h-1zM532.25 536.6h1v4h-1zM534.5 536.6h1v4h-1zM536.75 536.6h1v4h-1zM539 536.6h1v4h-1zM541.25 536.6h1v4h-1zM543.5 536.6h1v4h-1zM545.75 536.6h1v4h-1zM548 536.6h1v4h-1zM550.25 536.6h1v4h-1zM552.5 536.6h1v4h-1zM554.75 536.6h1v4h-1zM557 536.6h1v4h-1zM559.25 536.6h1v4h-1zM561.5 536.6h1v4h-1zM563.75 536.6h1v4h-1zM566 536.6h1v4h-1z" fill="#fff"/>
<rect x="628" y="534.6" width="86.5" height="12.1" fill="#000"/>
<path d="M630 536.6h1v4h-1zM632.25 536.6h1v4h-1zM634.5 536.6h1v4h-1zM636.75 536.6h1v4h-1zM639 536.6h1v4h-1zM641.25 536.6h1v4h-1zM643.5 536.6h1v4h-1zM645.75 536.6h1v4h-1zM648 536.6h1v4h-1zM650.25 536.6h1v4h-1zM652.5 536.6h1v4h-1zM654.75 536.6h1v4h-1zM657 536.6h1v4h-1zM659.25 536.6h1v4h-1zM661.5 536.6h1v4h-1zM663.75 536.6h1v4h-1zM666 536.6h1v4h-1zM668.25 536.6h1v4h-1zM670.5 536.6h1v4h-1zM672.75 536.6h1v4h-1zM675 536.6h1v4h-1zM677.25 536.6h1v4h-1zM679.5 536.6h1v4h-1zM681.75 536.6h1v4h-1zM684 536.6h1v4h-1zM686.25 536.6h1v4h-1zM688.5 536.6h1v4h-1zM690.75 536.6h1v4h-1zM693 536.6h1v4h-1zM695.25 536.6h1v4h-1zM697.5 536.6h1v4h-1zM699.75 536.6h1v4h-1zM702 536.6h1v4h-1zM704.25 536.6h1v4h-1zM706.5 536.6h1v4h-1zM708.75 536.6h1v4h-1zM711 536.6h1v4h-1z" fill="#fff"/>
<rect x="716.7" y="536.5" width="8.4" height="6" fill="#fff" stroke="#000" stroke-width="1"/>
<rect x="718.7" y="541.4" width="7.3" height="5.5" fill="#fff" stroke="#000" stroke-width="1"/>
<rect x="726.3" y="534.7" width="3.4" height="13" fill="#000"/>
<rect x="729.7" y="535.4" width="7.3" height="1" fill="#000"/>
<rect x="729.7" y="541.7" width="7.3" height="1" fill="#000"/>
<rect x="749.8" y="439.7" width="22.8" height="111.2" fill="#fff" stroke="#000" stroke-width="1"/>
<rect x="765" y="440" width="1" height="110.5" fill="#000"/>
<rect x="753.3" y="445.9" width="5" height="5.3" fill="none" stroke="#000" stroke-width="1"/>
<rect x="760" y="444.9" width="2.7" height="7.3" fill="#000"/>
<path d="M766.5 445.9 L768.5 445.9 L768.5 447.4 L770.2 447.4 L770.2 449.4 L768.5 449.4 L768.5 451.4 L766.5 451.4Z" fill="#000"/>
<rect x="753.3" y="455.26" width="5" height="5.3" fill="none" stroke="#000" stroke-width="1"/>
<rect x="760" y="454.26" width="2.7" height="7.3" fill="#000"/>
<path d="M766.5 455.26 L768.5 455.26 L768.5 456.76 L770.2 456.76 L770.2 458.76 L768.5 458.76 L768.5 460.76 L766.5 460.76Z" fill="#000"/>
<rect x="753.3" y="464.62" width="5" height="5.3" fill="none" stroke="#000" stroke-width="1"/>
<rect x="760" y="463.62" width="2.7" height="7.3" fill="#000"/>
<path d="M766.5 464.62 L768.5 464.62 L768.5 466.12 L770.2 466.12 L770.2 468.12 L768.5 468.12 L768.5 470.12 L766.5 470.12Z" fill="#000"/>
<rect x="753.3" y="473.98" width="5" height="5.3" fill="none" stroke="#000" stroke-width="1"/>
<rect x="760" y="472.98" width="2.7" height="7.3" fill="#000"/>
<path d="M766.5 473.98 L768.5 473.98 L768.5 475.48 L770.2 475.48 L770.2 477.48 L768.5 477.48 L768.5 479.48 L766.5 479.48Z" fill="#000"/>
<rect x="753.3" y="483.34" width="5" height="5.3" fill="none" stroke="#000" stroke-width="1"/>
<rect x="760" y="482.34" width="2.7" height="7.3" fill="#000"/>
<path d="M766.5 483.34 L768.5 483.34 L768.5 484.84 L770.2 484.84 L770.2 486.84 L768.5 486.84 L768.5 488.84 L766.5 488.84Z" fill="#000"/>
<rect x="753.3" y="492.7" width="5" height="5.3" fill="none" stroke="#000" stroke-width="1"/>
<rect x="760" y="491.7" width="2.7" height="7.3" fill="#000"/>
<path d="M766.5 492.7 L768.5 492.7 L768.5 494.2 L770.2 494.2 L770.2 496.2 L768.5 496.2 L768.5 498.2 L766.5 498.2Z" fill="#000"/>
<rect x="753.3" y="502.06" width="5" height="5.3" fill="none" stroke="#000" stroke-width="1"/>
<rect x="760" y="501.06" width="2.7" height="7.3" fill="#000"/>
<path d="M766.5 502.06 L768.5 502.06 L768.5 503.56 L770.2 503.56 L770.2 505.56 L768.5 505.56 L768.5 507.56 L766.5 507.56Z" fill="#000"/>
<rect x="753.3" y="511.42" width="5" height="5.3" fill="none" stroke="#000" stroke-width="1"/>
<rect x="760" y="510.42" width="2.7" height="7.3" fill="#000"/>
<path d="M766.5 511.42 L768.5 511.42 L768.5 512.92 L770.2 512.92 L770.2 514.92 L768.5 514.92 L768.5 516.92 L766.5 516.92Z" fill="#000"/>
<rect x="753.3" y="520.78" width="5" height="5.3" fill="none" stroke="#000" stroke-width="1"/>
<rect x="760" y="519.78" width="2.7" height="7.3" fill="#000"/>
<path d="M766.5 520.78 L768.5 520.78 L768.5 522.28 L770.2 522.28 L770.2 524.28 L768.5 524.28 L768.5 526.28 L766.5 526.28Z" fill="#000"/>
<rect x="753.3" y="530.14" width="5" height="5.3" fill="none" stroke="#000" stroke-width="1"/>
<rect x="760" y="529.14" width="2.7" height="7.3" fill="#000"/>
<path d="M766.5 530.14 L768.5 530.14 L768.5 531.64 L770.2 531.64 L770.2 533.64 L768.5 533.64 L768.5 535.64 L766.5 535.64Z" fill="#000"/>
<rect x="753.3" y="539.5" width="5" height="5.3" fill="none" stroke="#000" stroke-width="1"/>
<rect x="760" y="538.5" width="2.7" height="7.3" fill="#000"/>
<path d="M766.5 539.5 L768.5 539.5 L768.5 541 L770.2 541 L770.2 543 L768.5 543 L768.5 545 L766.5 545Z" fill="#000"/>
<rect x="799.9" y="469.2" width="29.1" height="36.1" fill="#000"/>
<rect x="823.7" y="462" width="5.3" height="49.5" fill="#000"/>
<rect x="797.5" y="474" width="2.5" height="26" fill="#000"/>
<rect x="793.8" y="477.5" width="4.1" height="7" fill="#fff" stroke="#000" stroke-width="1"/>
<rect x="793.8" y="490.4" width="4.1" height="7" fill="#fff" stroke="#000" stroke-width="1"/>
<path d="M746 355 L769 355 Q771 360 769 366 Q768 372 771 376 Q768 382 769 388 Q771 392 769 396 L746 396 Q744 392 746 386 Q747 380 744 376 Q747 370 746 364 Q744 359 746 355 Z" fill="none" stroke="#000" stroke-width="1"/>
<rect x="79" y="36" width="14" height="6.5" fill="#000"/>
<rect x="80" y="37.5" width="1" height="3.5" fill="#fff"/>
<rect x="85" y="37.5" width="1" height="3.5" fill="#fff"/>
<rect x="91" y="37.5" width="1" height="3.5" fill="#fff"/>
<rect x="76" y="50" width="14" height="6.5" fill="#000"/>
<rect x="77" y="51.5" width="1" height="3.5" fill="#fff"/>
<rect x="82" y="51.5" width="1" height="3.5" fill="#fff"/>
<rect x="88" y="51.5" width="1" height="3.5" fill="#fff"/>
<rect x="112" y="65.6" width="14" height="6" fill="#000"/>
<rect x="113.1" y="67.1" width="1" height="3" fill="#fff"/>
<rect x="118.1" y="67.1" width="1" height="3" fill="#fff"/>
<rect x="123.7" y="67.1" width="1" height="3" fill="#fff"/>
<rect x="92" y="84.1" width="31" height="6.5" fill="#000"/>
<rect x="97.5" y="85.6" width="1" height="3.5" fill="#fff"/>
<rect x="103.5" y="85.6" width="1" height="3.5" fill="#fff"/>
<rect x="109.1" y="85.6" width="1" height="3.5" fill="#fff"/>
<rect x="114.5" y="85.6" width="1" height="3.5" fill="#fff"/>
<rect x="117.5" y="85.6" width="4" height="3.5" fill="#fff"/>
<rect x="118.5" y="86.6" width="2" height="1.5" fill="#000"/>
<rect x="100.1" y="101.1" width="23.7" height="12.7" fill="#000"/>
<line x1="101.6" y1="102.6" x2="122.3" y2="102.6" stroke="#fff" stroke-width="1" stroke-dasharray="4 1.5"/>
<line x1="101.6" y1="107.7" x2="122.3" y2="107.7" stroke="#fff" stroke-width="1" stroke-dasharray="4 1.5"/>
<rect x="116.9" y="102.6" width="1" height="9.4" fill="#fff"/>
<rect x="97.5" y="127.9" width="25" height="5.5" fill="#fff" stroke="#000" stroke-width="1"/>
<rect x="99" y="128.4" width="4.5" height="2.6" fill="#000"/>
<rect x="104.5" y="128.4" width="4.5" height="2.6" fill="#000"/>
<rect x="110" y="128.4" width="4.5" height="2.6" fill="#000"/>
<rect x="116" y="128.4" width="5" height="4.1" fill="#000"/>
<rect x="117" y="129.4" width="3" height="2.1" fill="#fff"/>
<rect x="118" y="130" width="1" height="1" fill="#000"/>
<rect x="98.1" y="135.2" width="13" height="6.8" fill="#000"/>
<rect x="104" y="136.7" width="1" height="3.8" fill="#fff"/>
<rect x="174.1" y="115.1" width="6.6" height="18.6" fill="#000"/>
<rect x="178" y="116.6" width="1" height="15.6" fill="#fff"/>
<rect x="175" y="129" width="3" height="3.5" fill="#fff"/>
<rect x="176" y="130" width="1" height="1.5" fill="#000"/>
<rect x="175" y="121.2" width="3" height="1" fill="#fff"/>
<rect x="175" y="127.1" width="3" height="1" fill="#fff"/>
<rect x="133.2" y="47.8" width="35.6" height="14" fill="#000"/>
<line x1="134.7" y1="49.5" x2="167.3" y2="49.5" stroke="#fff" stroke-width="1" stroke-dasharray="4 1.5"/>
<line x1="134.7" y1="54.9" x2="167.3" y2="54.9" stroke="#fff" stroke-width="1" stroke-dasharray="4 1.5"/>
<line x1="134.7" y1="60.4" x2="167.3" y2="60.4" stroke="#fff" stroke-width="1" stroke-dasharray="4 1.5"/>
<rect x="134" y="49.3" width="1" height="11" fill="#fff"/>
<rect x="155" y="49.3" width="1" height="11" fill="#fff"/>
<rect x="163" y="49.3" width="1" height="11" fill="#fff"/>
<rect x="171.1" y="47.8" width="30.2" height="14" fill="#000"/>
<line x1="172.6" y1="49.5" x2="199.8" y2="49.5" stroke="#fff" stroke-width="1" stroke-dasharray="4 1.5"/>
<line x1="172.6" y1="54.9" x2="199.8" y2="54.9" stroke="#fff" stroke-width="1" stroke-dasharray="4 1.5"/>
<line x1="172.6" y1="60.4" x2="199.8" y2="60.4" stroke="#fff" stroke-width="1" stroke-dasharray="4 1.5"/>
<rect x="172" y="49.3" width="1" height="11" fill="#fff"/>
<rect x="181.5" y="49.3" width="1" height="11" fill="#fff"/>
<rect x="322.1" y="35" width="5.6" height="5.1" fill="#000"/>
<rect x="316" y="40.1" width="11.7" height="13.7" fill="#000"/>
<rect x="317.5" y="41" width="8.7" height="1" fill="#fff"/>
<rect x="317.5" y="51.8" width="8.7" height="1" fill="#fff"/>
<rect x="320" y="41.6" width="1" height="10.7" fill="#fff"/>
<rect x="317" y="46.5" width="4" height="1" fill="#fff"/>
<rect x="323" y="46" width="4" height="2.5" fill="#fff"/>
<rect x="324" y="46.8" width="2" height="1" fill="#000"/>
<rect x="316" y="58" width="11.7" height="18.8" fill="#000"/>
<rect x="322" y="59.5" width="1" height="16.5" fill="#fff"/>
<rect x="317.5" y="71.2" width="3.5" height="3.3" fill="#fff"/>
<rect x="318.5" y="72.2" width="1.5" height="1.3" fill="#000"/>
<rect x="323.5" y="71.2" width="3.5" height="3.3" fill="#fff"/>
<rect x="324.5" y="72.2" width="1.5" height="1.3" fill="#000"/>
<rect x="317" y="63" width="4.5" height="1.5" fill="#fff"/>
<rect x="323.5" y="63" width="3.5" height="1.5" fill="#fff"/>
<rect x="317" y="69" width="4.5" height="1.5" fill="#fff"/>
<rect x="323.5" y="69" width="3.5" height="1.5" fill="#fff"/>
<rect x="317" y="75" width="4.5" height="1" fill="#fff"/>
<rect x="323.5" y="75" width="3.5" height="1" fill="#fff"/>
<rect x="263" y="77" width="18" height="20" fill="#000"/>
<rect x="264.5" y="77.9" width="15" height="1" fill="#fff"/>
<rect x="264.5" y="83.5" width="15" height="1" fill="#fff"/>
<rect x="264.5" y="94.9" width="15" height="1" fill="#fff"/>
<rect x="269.2" y="78.5" width="1" height="17" fill="#fff"/>
<rect x="275.1" y="78.5" width="1" height="17" fill="#fff"/>
<rect x="264.5" y="90.5" width="4" height="4" fill="#fff"/>
<rect x="265.5" y="91.5" width="2" height="2" fill="#000"/>
<rect x="270.8" y="90.5" width="3.7" height="4" fill="#fff"/>
<rect x="271.8" y="91.5" width="1.7" height="2" fill="#000"/>
<rect x="276.8" y="90.5" width="3.2" height="4" fill="#fff"/>
<rect x="277.8" y="91.5" width="1.2" height="2" fill="#000"/>
<rect x="264" y="89" width="16" height="1" fill="#fff"/>
<rect x="273" y="130" width="6.9" height="5.1" fill="#000"/>
<rect x="256" y="135.1" width="23.9" height="13.7" fill="#000"/>
<line x1="257.5" y1="136.5" x2="278.4" y2="136.5" stroke="#fff" stroke-width="1" stroke-dasharray="4 1.5"/>
<line x1="257.5" y1="142.4" x2="278.4" y2="142.4" stroke="#fff" stroke-width="1" stroke-dasharray="4 1.5"/>
<line x1="257.5" y1="147.4" x2="278.4" y2="147.4" stroke="#fff" stroke-width="1" stroke-dasharray="4 1.5"/>
<rect x="257.2" y="136.5" width="1" height="10.9" fill="#fff"/>
<rect x="268.3" y="136.5" width="1" height="10.9" fill="#fff"/>
<rect x="275" y="144.2" width="3.2" height="2.3" fill="#fff"/>
<rect x="290.9" y="220" width="19" height="29.7" fill="#000"/>
<rect x="292.4" y="221" width="16" height="1" fill="#fff"/>
<rect x="292.4" y="242.8" width="16" height="1" fill="#fff"/>
<rect x="308.2" y="221.5" width="1" height="26.7" fill="#fff"/>
<line x1="296.7" y1="221.5" x2="296.7" y2="248.2" stroke="#fff" stroke-width="1" stroke-dasharray="4 1.5"/>
<line x1="302.3" y1="221.5" x2="302.3" y2="248.2" stroke="#fff" stroke-width="1" stroke-dasharray="4 1.5"/>
<rect x="303.3" y="222.5" width="4.5" height="4" fill="#fff"/>
<rect x="304.3" y="223.5" width="2.5" height="2" fill="#000"/>
<rect x="303.3" y="228" width="4.5" height="4.2" fill="#fff"/>
<rect x="304.3" y="229" width="2.5" height="2.2" fill="#000"/>
<rect x="303.3" y="233.8" width="4.5" height="4" fill="#fff"/>
<rect x="304.3" y="234.8" width="2.5" height="2" fill="#000"/>
<rect x="303.3" y="239" width="4.5" height="3.3" fill="#fff"/>
<rect x="304.3" y="240" width="2.5" height="1.3" fill="#000"/>
<rect x="303.3" y="245" width="4.5" height="3.3" fill="#fff"/>
<rect x="304.3" y="246" width="2.5" height="1.3" fill="#000"/>
<rect x="365.5" y="164.3" width="12.2" height="13.2" fill="#000"/>
<rect x="367" y="165.3" width="9.2" height="1" fill="#fff"/>
<rect x="367" y="175.7" width="9.2" height="1" fill="#fff"/>
<line x1="367" y1="171" x2="376.2" y2="171" stroke="#fff" stroke-width="1" stroke-dasharray="4 1.5"/>
<rect x="366.3" y="165.8" width="1" height="10.2" fill="#fff"/>
<rect x="371.1" y="165.8" width="1" height="10.2" fill="#fff"/>
<rect x="447.1" y="219.1" width="7" height="13.6" fill="#000"/>
<rect x="448.5" y="220" width="4.5" height="1" fill="#fff"/>
<rect x="448.5" y="225.8" width="4.5" height="1" fill="#fff"/>
<rect x="448.5" y="231" width="4.5" height="1" fill="#fff"/>
<rect x="568.2" y="64.2" width="31.1" height="13.6" fill="#000"/>
<line x1="569.7" y1="65.7" x2="597.8" y2="65.7" stroke="#fff" stroke-width="1" stroke-dasharray="4 1.5"/>
<line x1="569.7" y1="71.2" x2="597.8" y2="71.2" stroke="#fff" stroke-width="1" stroke-dasharray="4 1.5"/>
<line x1="569.7" y1="76.6" x2="597.8" y2="76.6" stroke="#fff" stroke-width="1" stroke-dasharray="4 1.5"/>
<rect x="587" y="65.7" width="1" height="10.6" fill="#fff"/>
<rect x="593" y="65.7" width="1" height="10.6" fill="#fff"/>
<rect x="168.1" y="313" width="13.7" height="17.9" fill="#000"/>
<rect x="169.6" y="317.2" width="10.7" height="1" fill="#fff"/>
<rect x="169.6" y="323.8" width="10.7" height="1" fill="#fff"/>
<line x1="169.4" y1="314.5" x2="169.4" y2="329.4" stroke="#fff" stroke-width="1" stroke-dasharray="4 1.5"/>
<line x1="175.6" y1="314.5" x2="175.6" y2="329.4" stroke="#fff" stroke-width="1" stroke-dasharray="4 1.5"/>
<line x1="180.6" y1="314.5" x2="180.6" y2="329.4" stroke="#fff" stroke-width="1" stroke-dasharray="4 1.5"/>
<rect x="168.1" y="333.2" width="12.9" height="18.7" fill="#000"/>
<rect x="169.6" y="345.2" width="9.9" height="1" fill="#fff"/>
<rect x="169.6" y="350.2" width="9.9" height="1" fill="#fff"/>
<rect x="168.9" y="334.7" width="1" height="15.7" fill="#fff"/>
<rect x="175.1" y="334.7" width="1" height="15.7" fill="#fff"/>
<rect x="170.5" y="346.5" width="4" height="3.5" fill="#fff"/>
<rect x="171.5" y="347.5" width="2" height="1.5" fill="#000"/>
<rect x="177" y="346.5" width="3.5" height="3.5" fill="#fff"/>
<rect x="178" y="347.5" width="1.5" height="1.5" fill="#000"/>
<rect x="170" y="339" width="4" height="1" fill="#fff"/>
<rect x="176.5" y="339" width="3.5" height="1" fill="#fff"/>
<rect x="294" y="357.2" width="7.1" height="18.6" fill="#000"/>
<rect x="299" y="358.5" width="1" height="7.5" fill="#fff"/>
<rect x="295.5" y="369" width="4.3" height="4.5" fill="#fff"/>
<rect x="296.5" y="370" width="2.3" height="2.5" fill="#000"/>
<rect x="295.5" y="366" width="4.5" height="1" fill="#fff"/>
<rect x="445.2" y="367.2" width="17.5" height="13.5" fill="#000"/>
<line x1="446.7" y1="368.6" x2="461.2" y2="368.6" stroke="#fff" stroke-width="1" stroke-dasharray="4 1.5"/>
<line x1="446.7" y1="374.1" x2="461.2" y2="374.1" stroke="#fff" stroke-width="1" stroke-dasharray="4 1.5"/>
<line x1="446.7" y1="379.4" x2="461.2" y2="379.4" stroke="#fff" stroke-width="1" stroke-dasharray="4 1.5"/>
<rect x="450.9" y="368.7" width="1" height="10.5" fill="#fff"/>
<rect x="456.9" y="368.7" width="1" height="10.5" fill="#fff"/>
<rect x="801" y="344" width="13.9" height="17.6" fill="#000"/>
<rect x="802" y="345.5" width="1" height="4" fill="#fff"/>
<rect x="808" y="345.5" width="1" height="4" fill="#fff"/>
<rect x="813" y="345.5" width="1" height="4" fill="#fff"/>
<rect x="802" y="351" width="1" height="4" fill="#fff"/>
<rect x="808" y="351" width="1" height="4" fill="#fff"/>
<rect x="813" y="351" width="1" height="4" fill="#fff"/>
<rect x="802" y="356" width="11.5" height="1" fill="#fff"/>
<rect x="802" y="356" width="1" height="4.5" fill="#fff"/>
<rect x="807.5" y="356" width="1" height="4.5" fill="#fff"/>
<rect x="812.5" y="356" width="1" height="4.5" fill="#fff"/>
<rect x="789.2" y="372.1" width="25.7" height="6.5" fill="#000"/>
<rect x="808" y="373.2" width="4.5" height="3.3" fill="#fff"/>
<rect x="809" y="374.2" width="2.5" height="1.3" fill="#000"/>
<rect x="790.3" y="373.2" width="1" height="4.3" fill="#fff"/>
<rect x="790.3" y="376.5" width="23.5" height="1" fill="#fff"/>
<rect x="795.5" y="373.2" width="1" height="4.3" fill="#fff"/>
<rect x="800.5" y="373.2" width="1" height="4.3" fill="#fff"/>
<rect x="806" y="373.2" width="1" height="4.3" fill="#fff"/>
<rect x="796.1" y="378.6" width="18.8" height="7" fill="#000"/>
<rect x="802" y="379.8" width="1" height="4.7" fill="#fff"/>
<rect x="807" y="379.8" width="1" height="4.7" fill="#fff"/>
<rect x="809.5" y="379.8" width="4" height="4.7" fill="#fff"/>
<rect x="810.5" y="380.8" width="2" height="2.7" fill="#000"/>
<rect x="181.2" y="570.1" width="29.8" height="13.3" fill="#000"/>
<line x1="182.7" y1="571.5" x2="209.5" y2="571.5" stroke="#fff" stroke-width="1" stroke-dasharray="4 1.5"/>
<line x1="182.7" y1="576.8" x2="209.5" y2="576.8" stroke="#fff" stroke-width="1" stroke-dasharray="4 1.5"/>
<line x1="182.7" y1="582" x2="209.5" y2="582" stroke="#fff" stroke-width="1" stroke-dasharray="4 1.5"/>
<rect x="182.2" y="571.6" width="1" height="10.3" fill="#fff"/>
<rect x="186.7" y="571.6" width="1" height="10.3" fill="#fff"/>
<rect x="190.5" y="571.6" width="1" height="10.3" fill="#fff"/>
<g shape-rendering="auto">
<path d="M133 356 L128.5 358 L127.5 362 L127.5 578 L133 587" fill="none" stroke="#000" stroke-width="1" stroke-linejoin="miter"/>
<path d="M127.5 455 L121 462 L127.5 470" fill="none" stroke="#000" stroke-width="1" stroke-linejoin="miter"/>
<path d="M68.4 32.92 L82 41 L71.6 29.08Z" fill="#fff" stroke="#000" stroke-width="1.4"/>
<path d="M74.84 36.17 L82 41 L75.96 34.83Z" fill="#000"/>
<path d="M60 56 L78 53.5 L60 51Z" fill="#fff" stroke="#000" stroke-width="1.4"/>
<path d="M68.1 54.38 L78 53.5 L68.1 52.62Z" fill="#000"/>
<path d="M94.93 70.5 L114 68.5 L95.07 65.5Z" fill="#fff" stroke="#000" stroke-width="1.4"/>
<path d="M103.53 69.1 L114 68.5 L103.57 67.35Z" fill="#000"/>
<path d="M74.93 89.5 L94 87.5 L75.07 84.5Z" fill="#fff" stroke="#000" stroke-width="1.4"/>
<path d="M83.53 88.1 L94 87.5 L83.57 86.35Z" fill="#000"/>
<path d="M81.94 109.5 L102 107.5 L82.06 104.5Z" fill="#fff" stroke="#000" stroke-width="1.4"/>
<path d="M90.98 108.1 L102 107.5 L91.02 106.35Z" fill="#000"/>
<path d="M140.87 101.5 L122 105 L141.13 106.5Z" fill="#fff" stroke="#000" stroke-width="1.4"/>
<path d="M132.4 103.58 L122 105 L132.5 105.32Z" fill="#000"/>
<path d="M81 132.5 L99 130 L81 127.5Z" fill="#fff" stroke="#000" stroke-width="1.4"/>
<path d="M89.1 130.88 L99 130 L89.1 129.12Z" fill="#000"/>
<path d="M96.93 152.58 L104 140 L93.07 149.42Z" fill="#fff" stroke="#000" stroke-width="1.4"/>
<path d="M99.73 146.6 L104 140 L98.37 145.5Z" fill="#000"/>
<path d="M163.54 139.97 L176 127 L160.46 136.03Z" fill="#fff" stroke="#000" stroke-width="1.4"/>
<path d="M168.84 133.74 L176 127 L167.76 132.36Z" fill="#000"/>
<path d="M153.65 72.12 L136 60 L150.35 75.88Z" fill="#fff" stroke="#000" stroke-width="1.4"/>
<path d="M145.38 67.04 L136 60 L144.22 68.36Z" fill="#000"/>
<path d="M214.4 40.08 L198 57 L217.6 43.92Z" fill="#fff" stroke="#000" stroke-width="1.4"/>
<path d="M207.34 48.08 L198 57 L208.46 49.42Z" fill="#000"/>
<path d="M304.55 42.03 L320 50 L307.45 37.97Z" fill="#fff" stroke="#000" stroke-width="1.4"/>
<path d="M311.79 45.21 L320 50 L312.81 43.79Z" fill="#000"/>
<path d="M347.12 35.5 L326 37 L346.88 40.5Z" fill="#fff" stroke="#000" stroke-width="1.4"/>
<path d="M337.59 36.68 L326 37 L337.51 38.42Z" fill="#000"/>
<path d="M297.88 66.5 L318 65 L298.12 61.5Z" fill="#fff" stroke="#000" stroke-width="1.4"/>
<path d="M306.96 65.32 L318 65 L307.04 63.58Z" fill="#000"/>
<path d="M326 76 L326 95" fill="none" stroke="#000" stroke-width="2" stroke-linejoin="miter"/>
<path d="M245.94 88.5 L266 86.5 L246.06 83.5Z" fill="#fff" stroke="#000" stroke-width="1.4"/>
<path d="M254.98 87.1 L266 86.5 L255.02 85.35Z" fill="#000"/>
<path d="M262.93 107.58 L270 95 L259.07 104.42Z" fill="#fff" stroke="#000" stroke-width="1.4"/>
<path d="M265.73 101.6 L270 95 L264.37 100.5Z" fill="#000"/>
<path d="M292.1 113.64 L277 95 L287.9 116.36Z" fill="#fff" stroke="#000" stroke-width="1.4"/>
<path d="M284.88 105.52 L277 95 L283.42 106.48Z" fill="#000"/>
<path d="M241.15 145.5 L258 142 L240.85 140.5Z" fill="#fff" stroke="#000" stroke-width="1.4"/>
<path d="M248.7 143.42 L258 142 L248.6 141.68Z" fill="#000"/>
<path d="M298.94 138.5 L278 141.5 L299.06 143.5Z" fill="#fff" stroke="#000" stroke-width="1.4"/>
<path d="M289.53 140.35 L278 141.5 L289.57 142.1Z" fill="#000"/>
<path d="M283.54 156.03 L268 147 L280.46 159.97Z" fill="#fff" stroke="#000" stroke-width="1.4"/>
<path d="M276.24 152.36 L268 147 L275.16 153.74Z" fill="#000"/>
<path d="M253.95 163.56 L264 147 L250.05 160.44Z" fill="#fff" stroke="#000" stroke-width="1.4"/>
<path d="M258.08 155.8 L264 147 L256.72 154.7Z" fill="#000"/>
<path d="M297.5 202 L300 222 L302.5 202Z" fill="#fff" stroke="#000" stroke-width="1.4"/>
<path d="M299.12 211 L300 222 L300.88 211Z" fill="#000"/>
<path d="M275 238.5 L293 236 L275 233.5Z" fill="#fff" stroke="#000" stroke-width="1.4"/>
<path d="M283.1 236.88 L293 236 L283.1 235.12Z" fill="#000"/>
<path d="M327 226.5 L308 229 L327 231.5Z" fill="#fff" stroke="#000" stroke-width="1.4"/>
<path d="M318.45 228.12 L308 229 L318.45 229.88Z" fill="#000"/>
<path d="M320.74 247.61 L307 246 L319.26 252.39Z" fill="#fff" stroke="#000" stroke-width="1.4"/>
<path d="M314.41 247.36 L307 246 L313.89 249.04Z" fill="#000"/>
<path d="M302.5 268 L300 248 L297.5 268Z" fill="#fff" stroke="#000" stroke-width="1.4"/>
<path d="M300.88 259 L300 248 L299.12 259Z" fill="#000"/>
<path d="M394 168.5 L376 171 L394 173.5Z" fill="#fff" stroke="#000" stroke-width="1.4"/>
<path d="M385.9 170.12 L376 171 L385.9 171.88Z" fill="#000"/>
<path d="M382.21 189.82 L372 176 L377.79 192.18Z" fill="#fff" stroke="#000" stroke-width="1.4"/>
<path d="M377.17 183.84 L372 176 L375.63 184.66Z" fill="#000"/>
<path d="M466.52 238.02 L452 230 L463.48 241.98Z" fill="#fff" stroke="#000" stroke-width="1.4"/>
<path d="M459.68 234.81 L452 230 L458.62 236.19Z" fill="#000"/>
<path d="M611 68.5 L596 71 L611 73.5Z" fill="#fff" stroke="#000" stroke-width="1.4"/>
<path d="M604.25 70.12 L596 71 L604.25 71.88Z" fill="#000"/>
<path d="M155.76 314.17 L171 320 L158.24 309.83Z" fill="#fff" stroke="#000" stroke-width="1.4"/>
<path d="M162.87 316.36 L171 320 L163.73 314.84Z" fill="#000"/>
<path d="M152.64 329.42 L171 322 L151.36 324.58Z" fill="#fff" stroke="#000" stroke-width="1.4"/>
<path d="M160.77 325.6 L171 322 L160.33 323.9Z" fill="#000"/>
<path d="M198 319.5 L180 322 L198 324.5Z" fill="#fff" stroke="#000" stroke-width="1.4"/>
<path d="M189.9 321.12 L180 322 L189.9 322.88Z" fill="#000"/>
<path d="M152.39 348.47 L171 343 L151.61 343.53Z" fill="#fff" stroke="#000" stroke-width="1.4"/>
<path d="M160.69 345.51 L171 343 L160.41 343.79Z" fill="#000"/>
<path d="M197.15 341.5 L180 343 L196.85 346.5Z" fill="#fff" stroke="#000" stroke-width="1.4"/>
<path d="M189.4 342.68 L180 343 L189.3 344.42Z" fill="#000"/>
<path d="M276.12 369.5 L296 366 L275.88 364.5Z" fill="#fff" stroke="#000" stroke-width="1.4"/>
<path d="M285.04 367.42 L296 366 L284.96 365.68Z" fill="#000"/>
<path d="M427.74 373.49 L447 373 L428.26 368.51Z" fill="#fff" stroke="#000" stroke-width="1.4"/>
<path d="M436.46 372.77 L447 373 L436.64 371.03Z" fill="#000"/>
<path d="M462.23 357.23 L454 369 L465.77 360.77Z" fill="#fff" stroke="#000" stroke-width="1.4"/>
<path d="M458.88 362.88 L454 369 L460.12 364.12Z" fill="#000"/>
<path d="M481.12 371.5 L461 373 L480.88 376.5Z" fill="#fff" stroke="#000" stroke-width="1.4"/>
<path d="M472.04 372.68 L461 373 L471.96 374.42Z" fill="#000"/>
<path d="M220.88 596.35 L205 582 L217.12 599.65Z" fill="#fff" stroke="#000" stroke-width="1.4"/>
<path d="M213.36 590.22 L205 582 L212.04 591.38Z" fill="#000"/>
<path d="M807.5 323.89 L809 346 L812.5 324.11Z" fill="#fff" stroke="#000" stroke-width="1.4"/>
<path d="M808.68 333.86 L809 346 L810.42 333.94Z" fill="#000"/>
<path d="M790.4 347.92 L804 356 L793.6 344.08Z" fill="#fff" stroke="#000" stroke-width="1.4"/>
<path d="M796.84 351.17 L804 356 L797.96 349.83Z" fill="#000"/>
<path d="M833.12 350.5 L812 352 L832.88 355.5Z" fill="#fff" stroke="#000" stroke-width="1.4"/>
<path d="M823.59 351.68 L812 352 L823.51 353.42Z" fill="#000"/>
<path d="M833 372.5 L812 375 L833 377.5Z" fill="#fff" stroke="#000" stroke-width="1.4"/>
<path d="M823.55 374.12 L812 375 L823.55 375.88Z" fill="#000"/>
<path d="M808.49 404.25 L808 384 L803.51 403.75Z" fill="#fff" stroke="#000" stroke-width="1.4"/>
<path d="M807.77 395.09 L808 384 L806.03 394.91Z" fill="#000"/>
</g>
<rect x="635" y="249.8" width="28.2" height="14" fill="#fff"/>
<rect x="635" y="294.1" width="28.2" height="14" fill="#fff"/>
<rect x="635" y="338.1" width="28.2" height="14" fill="#fff"/>
<rect x="635" y="383.4" width="28.2" height="14" fill="#fff"/>
<rect x="176" y="211" width="36" height="20.6" rx="3.5" fill="#000"/>
<rect x="178" y="213" width="32" height="16.1" rx="1.5" fill="#fff"/>
<rect x="208" y="159" width="50" height="19" fill="#000"/>
<rect x="210" y="162" width="46" height="13.5" fill="#fff"/>
<rect x="339.8" y="389.9" width="28.2" height="13.6" fill="#fff"/>
<rect x="321.6" y="415.5" width="28.6" height="14" fill="#fff"/>
<rect x="569.7" y="480.3" width="58.6" height="69.4" fill="#000" rx="2"/>
<rect x="571.5" y="481.5" width="55" height="14.8" fill="#fff" rx="1"/>
<rect x="571.5" y="498.7" width="55" height="14.8" fill="#fff" rx="1"/>
<rect x="571.5" y="516" width="55" height="15" fill="#fff" rx="1"/>
<rect x="571.5" y="533.1" width="55" height="15.4" fill="#fff" rx="1"/>
<rect x="30.3" y="15.1" width="41.3" height="18.3" rx="3.5" fill="#000"/>
<rect x="32.3" y="17.1" width="37.3" height="13.8" rx="1.5" fill="#fff"/>
<rect x="21.1" y="45" width="41.8" height="18" rx="3.5" fill="#000"/>
<rect x="23.1" y="47" width="37.8" height="13.5" rx="1.5" fill="#fff"/>
<rect x="72.2" y="59.2" width="25.1" height="16.9" rx="3.5" fill="#000"/>
<rect x="74.2" y="61.2" width="21.1" height="12.4" rx="1.5" fill="#fff"/>
<rect x="41.2" y="77.7" width="35.7" height="17" rx="3.5" fill="#000"/>
<rect x="43.2" y="79.7" width="31.7" height="12.5" rx="1.5" fill="#fff"/>
<rect x="11.4" y="98.1" width="72.3" height="18.1" rx="3.5" fill="#000"/>
<rect x="13.4" y="100.1" width="68.3" height="13.6" rx="1.5" fill="#fff"/>
<rect x="41.2" y="121.4" width="41.4" height="18.1" rx="3.5" fill="#000"/>
<rect x="43.2" y="123.4" width="37.4" height="13.6" rx="1.5" fill="#fff"/>
<rect x="57.7" y="149" width="40.6" height="18.4" rx="3.5" fill="#000"/>
<rect x="59.7" y="151" width="36.6" height="13.9" rx="1.5" fill="#fff"/>
<rect x="115.5" y="136.1" width="49" height="18.9" rx="3.5" fill="#000"/>
<rect x="117.5" y="138.1" width="45" height="14.4" rx="1.5" fill="#fff"/>
<rect x="147.2" y="72.1" width="57.6" height="18.1" rx="3.5" fill="#000"/>
<rect x="149.2" y="74.1" width="53.6" height="13.6" rx="1.5" fill="#fff"/>
<rect x="139.1" y="95.2" width="72.1" height="18.2" rx="3.5" fill="#000"/>
<rect x="141.1" y="97.2" width="68.1" height="13.7" rx="1.5" fill="#fff"/>
<rect x="212.4" y="25.1" width="57.2" height="18.7" rx="3.5" fill="#000"/>
<rect x="214.4" y="27.1" width="53.2" height="14.2" rx="1.5" fill="#fff"/>
<rect x="275.4" y="23.4" width="34.3" height="18.4" rx="3.5" fill="#000"/>
<rect x="277.4" y="25.4" width="30.3" height="13.9" rx="1.5" fill="#fff"/>
<rect x="344.1" y="30.9" width="38.8" height="15" rx="3.5" fill="#000"/>
<rect x="346.1" y="32.9" width="34.8" height="10.5" rx="1.5" fill="#fff"/>
<rect x="252.6" y="55.7" width="47.6" height="17.6" rx="3.5" fill="#000"/>
<rect x="254.6" y="57.7" width="43.6" height="13.1" rx="1.5" fill="#fff"/>
<rect x="207.6" y="77.4" width="39.9" height="17.9" rx="3.5" fill="#000"/>
<rect x="209.6" y="79.4" width="35.9" height="13.4" rx="1.5" fill="#fff"/>
<rect x="224.6" y="104.6" width="40.3" height="17" rx="3.5" fill="#000"/>
<rect x="226.6" y="106.6" width="36.3" height="12.5" rx="1.5" fill="#fff"/>
<rect x="303.6" y="93.6" width="45.1" height="16.5" rx="3.5" fill="#000"/>
<rect x="305.6" y="95.6" width="41.1" height="12" rx="1.5" fill="#fff"/>
<rect x="288.3" y="113.1" width="48.5" height="16.2" rx="3.5" fill="#000"/>
<rect x="290.3" y="115.1" width="44.5" height="11.7" rx="1.5" fill="#fff"/>
<rect x="193.6" y="134.4" width="47.6" height="17.6" rx="3.5" fill="#000"/>
<rect x="195.6" y="136.4" width="43.6" height="13.1" rx="1.5" fill="#fff"/>
<rect x="297" y="132.5" width="44" height="16.4" rx="3.5" fill="#000"/>
<rect x="299" y="134.5" width="40" height="11.9" rx="1.5" fill="#fff"/>
<rect x="278.9" y="156.1" width="40.8" height="18.2" rx="3.5" fill="#000"/>
<rect x="280.9" y="158.1" width="36.8" height="13.7" rx="1.5" fill="#fff"/>
<rect x="279.7" y="185.5" width="42.8" height="18.3" rx="3.5" fill="#000"/>
<rect x="281.7" y="187.5" width="38.8" height="13.8" rx="1.5" fill="#fff"/>
<rect x="236.1" y="227.7" width="39.6" height="16.3" rx="3.5" fill="#000"/>
<rect x="238.1" y="229.7" width="35.6" height="11.8" rx="1.5" fill="#fff"/>
<rect x="324.2" y="220.7" width="41.1" height="17.5" rx="3.5" fill="#000"/>
<rect x="326.2" y="222.7" width="37.1" height="13" rx="1.5" fill="#fff"/>
<rect x="316.4" y="248.3" width="41" height="18.3" rx="3.5" fill="#000"/>
<rect x="318.4" y="250.3" width="37" height="13.8" rx="1.5" fill="#fff"/>
<rect x="280.6" y="267.5" width="41.5" height="17.5" rx="3.5" fill="#000"/>
<rect x="282.6" y="269.5" width="37.5" height="13" rx="1.5" fill="#fff"/>
<rect x="392.2" y="162.1" width="48.5" height="17.7" rx="3.5" fill="#000"/>
<rect x="394.2" y="164.1" width="44.5" height="13.2" rx="1.5" fill="#fff"/>
<rect x="376.3" y="188.4" width="50.4" height="17.7" rx="3.5" fill="#000"/>
<rect x="378.3" y="190.4" width="46.4" height="13.2" rx="1.5" fill="#fff"/>
<rect x="462.2" y="238.4" width="49.5" height="17" rx="3.5" fill="#000"/>
<rect x="464.2" y="240.4" width="45.5" height="12.5" rx="1.5" fill="#fff"/>
<rect x="609.4" y="62.1" width="69.4" height="18" rx="3.5" fill="#000"/>
<rect x="611.4" y="64.1" width="65.4" height="13.5" rx="1.5" fill="#fff"/>
<rect x="383.9" y="52.8" width="28.1" height="14" fill="#fff"/>
<rect x="361.3" y="87.6" width="28.7" height="13.2" fill="#fff" rx="2"/>
<rect x="361.3" y="131.3" width="28.7" height="13.2" fill="#fff" rx="2"/>
<rect x="121.5" y="299.7" width="39.3" height="15.5" rx="3.5" fill="#000"/>
<rect x="123.5" y="301.7" width="35.3" height="11" rx="1.5" fill="#fff"/>
<rect x="112.2" y="318.8" width="41.3" height="16.2" rx="3.5" fill="#000"/>
<rect x="114.2" y="320.8" width="37.3" height="11.7" rx="1.5" fill="#fff"/>
<rect x="112.2" y="338" width="41.3" height="17" rx="3.5" fill="#000"/>
<rect x="114.2" y="340" width="37.3" height="12.5" rx="1.5" fill="#fff"/>
<rect x="197" y="313.7" width="39.7" height="17.4" rx="3.5" fill="#000"/>
<rect x="199" y="315.7" width="35.7" height="12.9" rx="1.5" fill="#fff"/>
<rect x="196.2" y="335.5" width="40.5" height="17.2" rx="3.5" fill="#000"/>
<rect x="198.2" y="337.5" width="36.5" height="12.7" rx="1.5" fill="#fff"/>
<rect x="243.2" y="358" width="35.7" height="18.2" rx="3.5" fill="#000"/>
<rect x="245.2" y="360" width="31.7" height="13.7" rx="1.5" fill="#fff"/>
<rect x="381.2" y="361.8" width="48.4" height="17.2" rx="3.5" fill="#000"/>
<rect x="383.2" y="363.8" width="44.4" height="12.7" rx="1.5" fill="#fff"/>
<rect x="461.3" y="342.4" width="33.4" height="17.8" rx="3.5" fill="#000"/>
<rect x="463.3" y="344.4" width="29.4" height="13.3" rx="1.5" fill="#fff"/>
<rect x="478" y="365.8" width="34.9" height="17.4" rx="3.5" fill="#000"/>
<rect x="480" y="367.8" width="30.9" height="12.9" rx="1.5" fill="#fff"/>
<rect x="403.2" y="399" width="32.6" height="18.3" rx="3.5" fill="#000"/>
<rect x="405.2" y="401" width="28.6" height="13.8" rx="1.5" fill="#fff"/>
<rect x="70.2" y="454" width="50.9" height="18.6" rx="3.5" fill="#000"/>
<rect x="72.2" y="456" width="46.9" height="14.1" rx="1.5" fill="#fff"/>
<rect x="216.4" y="594.3" width="50.4" height="17.7" rx="3.5" fill="#000"/>
<rect x="218.4" y="596.3" width="46.4" height="13.2" rx="1.5" fill="#fff"/>
<rect x="789.3" y="308" width="42.7" height="18.4" rx="3.5" fill="#000"/>
<rect x="791.3" y="310" width="38.7" height="13.9" rx="1.5" fill="#fff"/>
<rect x="752.7" y="332.7" width="40.6" height="17" rx="3.5" fill="#000"/>
<rect x="754.7" y="334.7" width="36.6" height="12.5" rx="1.5" fill="#fff"/>
<rect x="830.2" y="345.8" width="40.4" height="16" rx="3.5" fill="#000"/>
<rect x="832.2" y="347.8" width="36.4" height="11.5" rx="1.5" fill="#fff"/>
<rect x="830.2" y="366.8" width="24.1" height="16.3" rx="3.5" fill="#000"/>
<rect x="832.2" y="368.8" width="20.1" height="11.8" rx="1.5" fill="#fff"/>
<rect x="789.1" y="402.2" width="33.1" height="17.3" rx="3.5" fill="#000"/>
<rect x="791.1" y="404.2" width="29.1" height="12.8" rx="1.5" fill="#fff"/>
<g shape-rendering="auto">
<text x="862.84" y="261.1" font-size="13.57" fill="#000" letter-spacing="3.42" transform="scale(0.73684 1)" stroke="#000" stroke-width="0.12">PC1</text>
<text x="862.84" y="305.4" font-size="13.57" fill="#000" letter-spacing="3.43" transform="scale(0.73684 1)" stroke="#000" stroke-width="0.12">PC2</text>
<text x="862.84" y="349.4" font-size="13.57" fill="#000" letter-spacing="3.39" transform="scale(0.73684 1)" stroke="#000" stroke-width="0.12">PC3</text>
<text x="862.84" y="394.7" font-size="13.57" fill="#000" letter-spacing="3.3" transform="scale(0.73684 1)" stroke="#000" stroke-width="0.12">PC4</text>
<text x="252.59" y="225.7" font-size="14.14" fill="#000" letter-spacing="4.55" transform="scale(0.70707 1)" stroke="#000" stroke-width="0.12">CPU</text>
<text x="276.84" y="172.2" font-size="13.86" fill="#000" letter-spacing="2.66" transform="scale(0.76771 1)" stroke="#000" stroke-width="0.12">JP116</text>
<text x="460.22" y="399.8" font-size="13.43" fill="#000" letter-spacing="3.24" transform="scale(0.74468 1)" stroke="#000" stroke-width="0.12">U31</text>
<text x="458.12" y="426.9" font-size="14.14" fill="#000" letter-spacing="3.42" transform="scale(0.70707 1)" stroke="#000" stroke-width="0.12">U52</text>
<text x="739.26" y="492.6" font-size="12.86" fill="#000" letter-spacing="3.07" transform="scale(0.77778 1)" stroke="#000" stroke-width="0.12">BANK 0</text>
<text x="754.37" y="509.8" font-size="13.14" fill="#000" letter-spacing="3.21" transform="scale(0.76087 1)" stroke="#000" stroke-width="0.12">BANK 1</text>
<text x="739.26" y="527.4" font-size="12.86" fill="#000" letter-spacing="3.2" transform="scale(0.77778 1)" stroke="#000" stroke-width="0.12">BANK 2</text>
<text x="737.97" y="544.6" font-size="12.86" fill="#000" letter-spacing="3.13" transform="scale(0.77778 1)" stroke="#000" stroke-width="0.12">BANK 3</text>
<text x="46.96" y="28.1" font-size="13.71" fill="#000" letter-spacing="2.55" transform="scale(0.77571 1)" stroke="#000" stroke-width="0.12">JP99</text>
<text x="31.1" y="57" font-size="12.86" fill="#000" letter-spacing="2.6" transform="scale(0.82742 1)" stroke="#000" stroke-width="0.12">JP92</text>
<text x="94.16" y="70.7" font-size="12.14" fill="#000" letter-spacing="3.52" transform="scale(0.82353 1)" stroke="#000" stroke-width="0.12">S1</text>
<text x="59.06" y="90.2" font-size="13" fill="#000" letter-spacing="2.7" transform="scale(0.81833 1)" stroke="#000" stroke-width="0.12">J20</text>
<text x="18.77" y="111.1" font-size="12.86" fill="#000" letter-spacing="2.06" transform="scale(0.82742 1)" stroke="#000" stroke-width="0.12">JP403-404</text>
<text x="56.98" y="133.3" font-size="13" fill="#000" letter-spacing="2.19" transform="scale(0.81833 1)" stroke="#000" stroke-width="0.12">JP18</text>
<text x="80.87" y="162" font-size="13.71" fill="#000" letter-spacing="2.23" transform="scale(0.77571 1)" stroke="#000" stroke-width="0.12">JP93</text>
<text x="156.67" y="148.4" font-size="13.71" fill="#000" letter-spacing="2.58" transform="scale(0.77571 1)" stroke="#000" stroke-width="0.12">JP112</text>
<text x="191.14" y="85.2" font-size="13.57" fill="#000" letter-spacing="2.22" transform="scale(0.78387 1)" stroke="#000" stroke-width="0.12">JP81-86</text>
<text x="174.78" y="107.9" font-size="13" fill="#000" letter-spacing="1.87" transform="scale(0.81833 1)" stroke="#000" stroke-width="0.12">JP401-402</text>
<text x="276.95" y="38.1" font-size="13.71" fill="#000" letter-spacing="2.17" transform="scale(0.77571 1)" stroke="#000" stroke-width="0.12">JP13-17</text>
<text x="328.91" y="36.2" font-size="12.43" fill="#000" letter-spacing="1.85" transform="scale(0.85596 1)" stroke="#000" stroke-width="0.12">JP2</text>
<text x="415.23" y="41.8" font-size="12.71" fill="#000" letter-spacing="2.49" transform="scale(0.83672 1)" stroke="#000" stroke-width="0.12">JP95</text>
<text x="293.95" y="67.6" font-size="12.14" fill="#000" letter-spacing="1.89" transform="scale(0.87610 1)" stroke="#000" stroke-width="0.12">JP104</text>
<text x="251.15" y="89.6" font-size="12.57" fill="#000" letter-spacing="2.58" transform="scale(0.84623 1)" stroke="#000" stroke-width="0.12">JP97</text>
<text x="278.37" y="116.2" font-size="12.86" fill="#000" letter-spacing="2.49" transform="scale(0.82742 1)" stroke="#000" stroke-width="0.12">JP98</text>
<text x="349.31" y="105.5" font-size="12.14" fill="#000" letter-spacing="3" transform="scale(0.87610 1)" stroke="#000" stroke-width="0.12">JP101</text>
<text x="367.33" y="125" font-size="13.29" fill="#000" letter-spacing="2.2" transform="scale(0.80073 1)" stroke="#000" stroke-width="0.12">JP105</text>
<text x="248.83" y="146.1" font-size="13.43" fill="#000" letter-spacing="2.66" transform="scale(0.79221 1)" stroke="#000" stroke-width="0.12">JP117</text>
<text x="366.15" y="144" font-size="13" fill="#000" letter-spacing="2.47" transform="scale(0.81833 1)" stroke="#000" stroke-width="0.12">JP119</text>
<text x="365.12" y="169.4" font-size="13.71" fill="#000" letter-spacing="2.77" transform="scale(0.77571 1)" stroke="#000" stroke-width="0.12">JP87</text>
<text x="314.19" y="198.1" font-size="11.71" fill="#000" letter-spacing="2.01" transform="scale(0.90815 1)" stroke="#000" stroke-width="0.12">JP96</text>
<text x="279.72" y="239.6" font-size="12.43" fill="#000" letter-spacing="1.99" transform="scale(0.85596 1)" stroke="#000" stroke-width="0.12">JP90</text>
<text x="385.69" y="232.6" font-size="12.43" fill="#000" letter-spacing="2.39" transform="scale(0.85596 1)" stroke="#000" stroke-width="0.12">JP91</text>
<text x="374.59" y="260.5" font-size="12.43" fill="#000" letter-spacing="2.7" transform="scale(0.85596 1)" stroke="#000" stroke-width="0.12">JP89</text>
<text x="334.75" y="279.7" font-size="12.43" fill="#000" letter-spacing="2.02" transform="scale(0.85596 1)" stroke="#000" stroke-width="0.12">JP88</text>
<text x="507.13" y="174.3" font-size="13.57" fill="#000" letter-spacing="2.49" transform="scale(0.78387 1)" stroke="#000" stroke-width="0.12">JP114</text>
<text x="486.85" y="201.1" font-size="13.57" fill="#000" letter-spacing="2.4" transform="scale(0.78387 1)" stroke="#000" stroke-width="0.12">JP115</text>
<text x="566.37" y="250.8" font-size="12.86" fill="#000" letter-spacing="2.34" transform="scale(0.82742 1)" stroke="#000" stroke-width="0.12">JP118</text>
<text x="771.42" y="74.6" font-size="13.43" fill="#000" letter-spacing="2.08" transform="scale(0.79221 1)" stroke="#000" stroke-width="0.12">JP107-111</text>
<text x="819.7" y="74.1" font-size="12" fill="#000" letter-spacing="1.38" transform="scale(0.83333 1)" stroke="#000" stroke-width="0.12">MH2135</text>
<text x="550.26" y="63.9" font-size="14.29" fill="#000" letter-spacing="3.39" transform="scale(0.70000 1)" stroke="#000" stroke-width="0.12">KBD</text>
<text x="458.15" y="97.2" font-size="12.57" fill="#000" letter-spacing="2.67" transform="scale(0.79545 1)" stroke="#000" stroke-width="0.12">SL1</text>
<text x="478.98" y="141.7" font-size="13.14" fill="#000" letter-spacing="2.8" transform="scale(0.76087 1)" stroke="#000" stroke-width="0.12">SL2</text>
<text x="136.32" y="310.7" font-size="11.57" fill="#000" letter-spacing="2.15" transform="scale(0.91936 1)" stroke="#000" stroke-width="0.12">JP21</text>
<text x="127.51" y="330.6" font-size="11.57" fill="#000" letter-spacing="2.11" transform="scale(0.91936 1)" stroke="#000" stroke-width="0.12">JP19</text>
<text x="132.24" y="349.4" font-size="12" fill="#000" letter-spacing="1.91" transform="scale(0.88652 1)" stroke="#000" stroke-width="0.12">JP23</text>
<text x="218.88" y="326.2" font-size="11.57" fill="#000" letter-spacing="1.82" transform="scale(0.91936 1)" stroke="#000" stroke-width="0.12">JP20</text>
<text x="218.01" y="346.8" font-size="11.57" fill="#000" letter-spacing="2.16" transform="scale(0.91936 1)" stroke="#000" stroke-width="0.12">JP22</text>
<text x="333.06" y="371" font-size="14.14" fill="#000" letter-spacing="2.72" transform="scale(0.75220 1)" stroke="#000" stroke-width="0.12">JP6</text>
<text x="424.74" y="373.2" font-size="11.71" fill="#000" letter-spacing="1.92" transform="scale(0.90815 1)" stroke="#000" stroke-width="0.12">JP106</text>
<text x="570.34" y="354.7" font-size="13" fill="#000" letter-spacing="2.17" transform="scale(0.81833 1)" stroke="#000" stroke-width="0.12">JP4</text>
<text x="565.6" y="377.7" font-size="12.43" fill="#000" letter-spacing="2.69" transform="scale(0.85596 1)" stroke="#000" stroke-width="0.12">JP3</text>
<text x="595.36" y="413" font-size="14.57" fill="#000" letter-spacing="2.65" transform="scale(0.68627 1)" stroke="#000" stroke-width="0.12">TAG</text>
<text x="93.32" y="465.6" font-size="12.71" fill="#000" letter-spacing="2.93" transform="scale(0.78652 1)" stroke="#000" stroke-width="0.12">CACHE</text>
<text x="287.52" y="607" font-size="13.86" fill="#000" letter-spacing="2.19" transform="scale(0.76771 1)" stroke="#000" stroke-width="0.12">JP8-12</text>
<text x="938.91" y="320.1" font-size="12.57" fill="#000" letter-spacing="2.37" transform="scale(0.84623 1)" stroke="#000" stroke-width="0.12">JP79</text>
<text x="875.3" y="345.1" font-size="12.29" fill="#000" letter-spacing="1.62" transform="scale(0.86591 1)" stroke="#000" stroke-width="0.12">JP80</text>
<text x="931.26" y="357.2" font-size="11.86" fill="#000" letter-spacing="1.68" transform="scale(0.89721 1)" stroke="#000" stroke-width="0.12">JP94</text>
<text x="1042.46" y="379.2" font-size="13.29" fill="#000" letter-spacing="3.81" transform="scale(0.80073 1)" stroke="#000" stroke-width="0.12">J9</text>
<text x="959.16" y="414.6" font-size="12.86" fill="#000" letter-spacing="2.93" transform="scale(0.82742 1)" stroke="#000" stroke-width="0.12">JP1</text>
</g>
</svg>
</body></html>
